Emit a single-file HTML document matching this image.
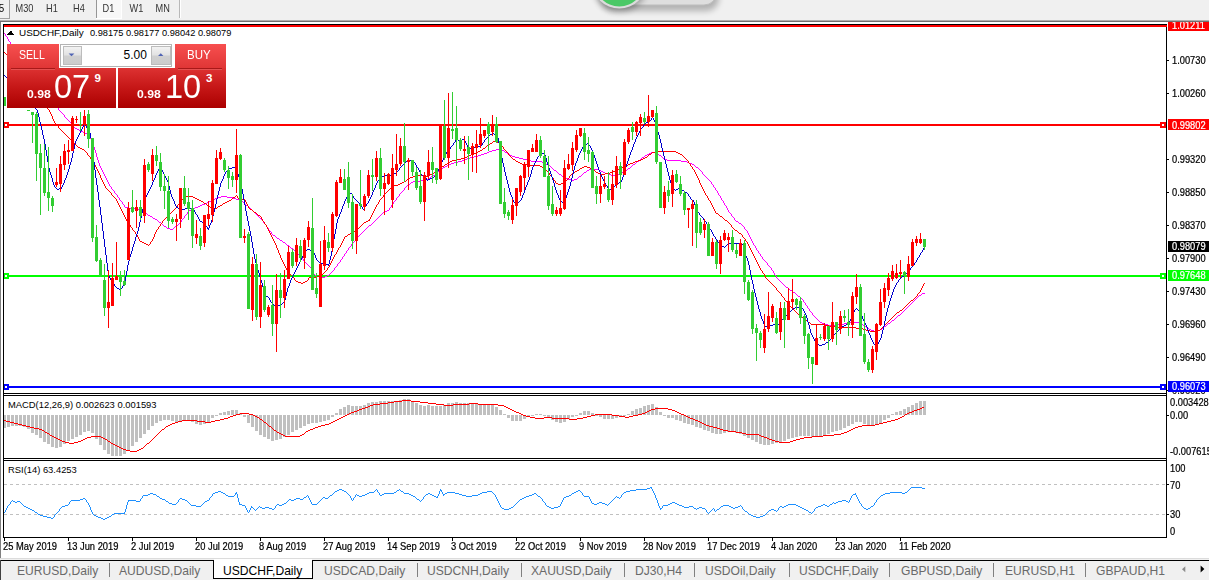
<!DOCTYPE html>
<html><head><meta charset="utf-8"><title>USDCHF,Daily</title>
<style>
html,body{margin:0;padding:0}
html{overflow:hidden}
#w{position:absolute;left:0;top:0;width:1209px;height:580px;overflow:hidden}
body{width:1209px;height:580px;overflow:hidden;background:#f0f0f0;position:relative;font-family:"Liberation Sans",sans-serif;}
svg{position:absolute;left:0;top:0}
.t{position:absolute;white-space:nowrap;line-height:1;color:#000}
.ax{font-size:9.3px;left:1172px;transform:scaleY(1.08);transform-origin:0 50%;margin-top:0.7px;-webkit-text-stroke:0.2px currentColor}
.ax2{font-size:9.3px;left:1170px;transform:scaleY(1.08);transform-origin:0 50%;margin-top:0.6px;-webkit-text-stroke:0.2px currentColor}
.dt{font-size:9.35px;top:543px;transform:scaleY(1.1);transform-origin:0 50%;-webkit-text-stroke:0.2px currentColor}
.tb{font-size:9.2px;top:4.6px;color:#333;transform:scaleY(1.12);transform-origin:0 50%;margin-left:-0.5px}
.tab{font-size:12.1px;top:564.6px;color:#6a6a6a}
.sep{position:absolute;top:563px;width:1px;height:14px;background:#808080}
.lbl{color:#fff}
</style></head><body><div id="w">

<svg width="1209" height="580" viewBox="0 0 1209 580" shape-rendering="crispEdges"><rect x="1" y="22" width="1208" height="536" fill="#fff"/>
<rect x="0" y="20" width="1209" height="1" fill="#b0b0b0"/>
<rect x="0" y="21" width="1209" height="1" fill="#707070"/>
<rect x="0" y="22" width="1" height="536" fill="#808080"/>
<rect x="0" y="558" width="1209" height="1" fill="#dcdcdc"/>
<defs><clipPath id="cp"><rect x="4" y="25" width="1162" height="368"/></clipPath></defs>
<g clip-path="url(#cp)" shape-rendering="crispEdges"><rect x="4" y="124" width="1162" height="2" fill="#ff0000"/><rect x="4" y="275" width="1162" height="2" fill="#00ff00"/><path d="M5.5 34v2M7.5 37v2M8.5 39v2M10.5 42v2M13.5 46v2M16.5 50v2M18.5 53v2M21.5 57v2M23.5 60v2M26.5 64v2M29.5 68v2M31.5 71v2M34.5 75v2M37.5 79v2M39.5 82v2M42.5 86v2M45.5 90v2M47.5 93v2M50.5 97v2M52.5 100v2M55.5 104v2M58.5 108v2M64.5 115v2M71.5 123v2M89.5 136v2M91.5 139v2M92.5 141v3M93.5 144v3M94.5 147v3M95.5 150v3M96.5 153v4M97.5 157v3M98.5 160v3M99.5 163v3M100.5 166v2M101.5 168v2M102.5 170v2M103.5 172v2M104.5 174v2M105.5 176v2M106.5 178v2M107.5 180v2M108.5 182v2M109.5 184v2M111.5 187v2M114.5 191v2M117.5 195v2M119.5 198v2M122.5 202v2M124.5 205v2M181.5 220v2M184.5 216v2M187.5 212v2M263.5 221v2M266.5 225v2M268.5 228v2M271.5 232v2M303.5 259v2M311.5 268v2M312.5 270v2M313.5 272v2M334.5 268v2M337.5 264v2M340.5 260v2M342.5 257v2M344.5 254v2M346.5 251v2M348.5 248v2M351.5 244v2M355.5 239v2M389.5 208v2M391.5 205v2M393.5 202v2M396.5 198v2M399.5 194v2M404.5 188v2M702.5 172v2M711.5 182v2M713.5 185v2M715.5 188v2M717.5 191v2M718.5 193v2M720.5 196v2M721.5 198v2M723.5 201v2M724.5 203v2M726.5 206v2M727.5 208v2M728.5 210v2M731.5 214v2M734.5 218v2M744.5 227v2M747.5 231v2M748.5 233v2M749.5 235v2M750.5 237v2M751.5 239v2M752.5 241v2M753.5 243v2M755.5 246v2M756.5 248v2M758.5 251v2M760.5 254v2M762.5 257v2M767.5 263v2M771.5 268v2M773.5 271v2M774.5 273v2M776.5 276v2M803.5 300v2M805.5 303v2M807.5 306v2M809.5 309v2M812.5 313v2M4 33.5h1M6 36.5h1M9 41.5h1M11 44.5h1M12 45.5h1M14 48.5h1M15 49.5h1M17 52.5h1M19 55.5h1M20 56.5h1M22 59.5h1M24 62.5h1M25 63.5h1M27 66.5h1M28 67.5h1M30 70.5h1M32 73.5h1M33 74.5h1M35 77.5h1M36 78.5h1M38 81.5h1M40 84.5h1M41 85.5h1M43 88.5h1M44 89.5h1M46 92.5h1M48 95.5h1M49 96.5h1M51 99.5h1M53 102.5h1M54 103.5h1M56 106.5h1M57 107.5h1M59 110.5h1M60 111.5h1M61 112.5h1M62 113.5h1M63 114.5h1M65 117.5h1M66 118.5h1M67 119.5h1M68 120.5h1M69 121.5h1M70 122.5h1M72 125.5h1M73 126.5h1M74 127.5h1M75 128.5h2M77 129.5h2M79 130.5h2M81 131.5h2M83 132.5h2M85 133.5h2M87 134.5h1M88 135.5h1M90 138.5h1M496 149.5h5M492 150.5h4M501 150.5h3M489 151.5h3M504 151.5h1M487 152.5h2M505 152.5h2M651 152.5h6M484 153.5h3M507 153.5h1M649 153.5h2M657 153.5h1M481 154.5h3M508 154.5h2M647 154.5h2M658 154.5h1M478 155.5h3M510 155.5h2M645 155.5h2M659 155.5h2M474 156.5h4M512 156.5h3M644 156.5h1M661 156.5h1M470 157.5h4M515 157.5h4M642 157.5h2M662 157.5h1M467 158.5h3M519 158.5h4M641 158.5h1M663 158.5h2M464 159.5h3M523 159.5h4M640 159.5h1M665 159.5h2M462 160.5h2M527 160.5h4M639 160.5h1M667 160.5h14M458 161.5h4M531 161.5h11M637 161.5h2M681 161.5h6M454 162.5h4M542 162.5h2M636 162.5h1M687 162.5h2M451 163.5h3M544 163.5h2M635 163.5h1M689 163.5h3M449 164.5h2M546 164.5h2M633 164.5h2M692 164.5h2M447 165.5h2M548 165.5h2M632 165.5h1M694 165.5h1M445 166.5h2M550 166.5h1M631 166.5h1M695 166.5h1M443 167.5h2M551 167.5h1M630 167.5h1M696 167.5h2M442 168.5h1M552 168.5h1M628 168.5h2M698 168.5h1M441 169.5h1M553 169.5h1M589 169.5h10M627 169.5h1M699 169.5h1M439 170.5h2M554 170.5h2M587 170.5h2M599 170.5h2M626 170.5h1M700 170.5h1M438 171.5h1M556 171.5h1M586 171.5h1M601 171.5h2M624 171.5h2M701 171.5h1M437 172.5h1M557 172.5h1M584 172.5h2M603 172.5h2M622 172.5h2M436 173.5h1M558 173.5h1M583 173.5h1M605 173.5h3M620 173.5h2M435 174.5h1M559 174.5h2M582 174.5h1M608 174.5h3M616 174.5h4M703 174.5h1M433 175.5h2M561 175.5h1M581 175.5h1M611 175.5h5M704 175.5h1M431 176.5h2M562 176.5h2M579 176.5h2M705 176.5h1M430 177.5h1M564 177.5h2M578 177.5h1M706 177.5h1M428 178.5h2M566 178.5h2M577 178.5h1M707 178.5h1M425 179.5h3M568 179.5h3M574 179.5h3M708 179.5h1M421 180.5h4M571 180.5h3M709 180.5h1M413 181.5h8M710 181.5h1M411 182.5h2M410 183.5h1M408 184.5h2M712 184.5h1M407 185.5h1M110 186.5h1M406 186.5h1M405 187.5h1M714 187.5h1M112 189.5h1M113 190.5h1M403 190.5h1M716 190.5h1M402 191.5h1M401 192.5h1M115 193.5h1M400 193.5h1M116 194.5h1M719 195.5h1M221 196.5h6M398 196.5h1M118 197.5h1M218 197.5h3M227 197.5h6M397 197.5h1M215 198.5h3M233 198.5h3M213 199.5h2M236 199.5h4M120 200.5h1M211 200.5h2M240 200.5h2M395 200.5h1M722 200.5h1M121 201.5h1M209 201.5h2M242 201.5h1M394 201.5h1M207 202.5h2M243 202.5h1M205 203.5h2M244 203.5h1M123 204.5h1M202 204.5h3M245 204.5h1M392 204.5h1M200 205.5h2M246 205.5h2M725 205.5h1M198 206.5h2M248 206.5h1M125 207.5h4M195 207.5h3M249 207.5h1M390 207.5h1M129 208.5h6M193 208.5h2M250 208.5h1M135 209.5h4M191 209.5h2M251 209.5h1M139 210.5h2M189 210.5h2M252 210.5h1M387 210.5h2M141 211.5h2M188 211.5h1M253 211.5h1M385 211.5h2M143 212.5h2M254 212.5h1M383 212.5h2M729 212.5h1M145 213.5h2M255 213.5h1M382 213.5h1M730 213.5h1M147 214.5h1M186 214.5h1M256 214.5h1M381 214.5h1M148 215.5h2M185 215.5h1M257 215.5h1M380 215.5h1M150 216.5h2M258 216.5h1M379 216.5h1M732 216.5h1M152 217.5h1M259 217.5h1M378 217.5h1M733 217.5h1M153 218.5h2M183 218.5h1M260 218.5h1M377 218.5h1M155 219.5h2M182 219.5h1M261 219.5h1M376 219.5h1M157 220.5h1M262 220.5h1M375 220.5h1M735 220.5h1M158 221.5h1M374 221.5h1M736 221.5h2M159 222.5h2M180 222.5h1M373 222.5h1M738 222.5h1M161 223.5h1M179 223.5h1M264 223.5h1M372 223.5h1M739 223.5h2M162 224.5h1M178 224.5h1M265 224.5h1M371 224.5h1M741 224.5h1M163 225.5h1M176 225.5h2M369 225.5h2M742 225.5h1M164 226.5h2M175 226.5h1M368 226.5h1M743 226.5h1M166 227.5h1M174 227.5h1M267 227.5h1M367 227.5h1M167 228.5h3M173 228.5h1M366 228.5h1M170 229.5h3M365 229.5h1M745 229.5h1M269 230.5h1M364 230.5h1M746 230.5h1M270 231.5h1M363 231.5h1M362 232.5h1M361 233.5h1M272 234.5h1M360 234.5h1M273 235.5h2M359 235.5h1M275 236.5h1M358 236.5h1M276 237.5h1M357 237.5h1M277 238.5h2M356 238.5h1M279 239.5h1M280 240.5h2M282 241.5h1M354 241.5h1M283 242.5h2M353 242.5h1M285 243.5h1M352 243.5h1M286 244.5h1M287 245.5h2M754 245.5h1M289 246.5h1M350 246.5h1M290 247.5h1M349 247.5h1M291 248.5h2M293 249.5h1M294 250.5h1M347 250.5h1M757 250.5h1M295 251.5h1M296 252.5h1M297 253.5h1M345 253.5h1M759 253.5h1M298 254.5h1M299 255.5h1M300 256.5h1M343 256.5h1M761 256.5h1M301 257.5h1M302 258.5h1M341 259.5h1M763 259.5h1M764 260.5h1M304 261.5h1M765 261.5h1M305 262.5h1M339 262.5h1M766 262.5h1M306 263.5h1M338 263.5h1M307 264.5h1M308 265.5h1M768 265.5h1M309 266.5h1M336 266.5h1M769 266.5h1M310 267.5h1M335 267.5h1M770 267.5h1M333 270.5h1M772 270.5h1M332 271.5h1M331 272.5h1M330 273.5h1M314 274.5h1M329 274.5h1M315 275.5h2M327 275.5h2M775 275.5h1M317 276.5h2M325 276.5h2M319 277.5h6M777 278.5h1M778 279.5h1M779 280.5h1M780 281.5h1M781 282.5h1M782 283.5h1M783 284.5h1M784 285.5h1M785 286.5h1M786 287.5h2M788 288.5h1M789 289.5h1M790 290.5h2M792 291.5h1M793 292.5h2M795 293.5h1M922 293.5h3M796 294.5h1M921 294.5h1M797 295.5h1M919 295.5h2M798 296.5h2M918 296.5h1M800 297.5h1M917 297.5h1M801 298.5h1M916 298.5h1M802 299.5h1M915 299.5h1M914 300.5h1M913 301.5h1M804 302.5h1M912 302.5h1M911 303.5h1M910 304.5h1M806 305.5h1M909 305.5h1M908 306.5h1M907 307.5h1M808 308.5h1M906 308.5h1M905 309.5h1M904 310.5h1M810 311.5h1M903 311.5h1M811 312.5h1M902 312.5h1M901 313.5h1M900 314.5h1M813 315.5h1M898 315.5h2M814 316.5h1M897 316.5h1M815 317.5h1M896 317.5h1M816 318.5h1M895 318.5h1M817 319.5h1M894 319.5h1M818 320.5h1M892 320.5h2M819 321.5h1M891 321.5h1M820 322.5h2M850 322.5h10M890 322.5h1M822 323.5h2M844 323.5h6M860 323.5h1M888 323.5h2M824 324.5h4M838 324.5h6M861 324.5h2M887 324.5h1M828 325.5h10M863 325.5h1M886 325.5h1M864 326.5h2M884 326.5h2M866 327.5h1M883 327.5h1M867 328.5h2M882 328.5h1M869 329.5h2M880 329.5h2M871 330.5h3M877 330.5h3M874 331.5h3" fill="none" stroke="#ff00ff" stroke-width="1" shape-rendering="crispEdges"/><path d="M7.5 55v2M10.5 59v2M13.5 63v2M17.5 68v2M20.5 72v2M24.5 77v2M27.5 81v2M30.5 85v2M34.5 90v2M37.5 94v2M41.5 99v2M44.5 103v2M47.5 107v2M49.5 110v2M50.5 112v2M51.5 114v2M52.5 116v3M53.5 119v2M54.5 121v2M58.5 126v2M87.5 153v2M90.5 157v2M92.5 160v2M93.5 162v2M95.5 165v2M96.5 167v2M97.5 169v2M98.5 171v2M99.5 173v2M100.5 175v3M101.5 178v2M102.5 180v2M103.5 182v2M104.5 184v2M105.5 186v2M111.5 193v2M116.5 199v2M117.5 201v2M118.5 203v2M119.5 205v2M120.5 207v2M121.5 209v2M122.5 211v2M123.5 213v2M124.5 215v2M125.5 217v2M126.5 219v2M127.5 221v2M130.5 225v2M132.5 228v2M135.5 232v2M137.5 235v2M138.5 237v2M139.5 239v2M150.5 242v2M152.5 239v2M153.5 237v2M154.5 234v3M155.5 232v2M156.5 230v2M158.5 227v2M160.5 224v2M162.5 221v2M177.5 205v2M180.5 201v2M183.5 197v2M237.5 196v2M245.5 200v2M246.5 202v2M247.5 204v2M248.5 206v2M261.5 217v2M262.5 219v2M264.5 222v2M266.5 225v2M267.5 227v2M268.5 229v2M269.5 231v2M270.5 233v2M271.5 235v2M272.5 237v2M273.5 239v2M274.5 241v2M275.5 243v2M276.5 245v3M277.5 248v2M278.5 250v3M279.5 253v2M280.5 255v3M281.5 258v2M282.5 260v2M283.5 262v2M284.5 264v2M285.5 266v2M286.5 268v2M289.5 272v2M294.5 278v2M308.5 278v2M327.5 268v2M329.5 265v2M330.5 263v2M331.5 261v2M332.5 259v2M333.5 257v2M334.5 255v2M336.5 252v2M337.5 250v2M338.5 248v2M340.5 245v2M341.5 243v2M342.5 241v2M343.5 239v2M344.5 237v2M369.5 219v2M370.5 217v2M371.5 215v2M372.5 213v2M373.5 211v2M374.5 209v2M375.5 207v2M376.5 205v2M378.5 202v2M379.5 200v2M383.5 195v2M503.5 147v2M508.5 153v2M549.5 173v2M553.5 178v2M555.5 181v2M569.5 176v2M688.5 161v2M690.5 164v2M692.5 167v2M694.5 170v2M695.5 172v2M696.5 174v2M697.5 176v2M698.5 178v2M699.5 180v3M700.5 183v2M701.5 185v2M702.5 187v2M703.5 189v2M704.5 191v2M705.5 193v2M707.5 196v2M708.5 198v2M710.5 201v2M711.5 203v2M712.5 205v2M713.5 207v2M714.5 209v2M715.5 211v2M731.5 225v2M742.5 235v2M745.5 239v2M747.5 242v2M748.5 244v2M749.5 246v2M750.5 248v2M751.5 250v2M752.5 252v2M753.5 254v2M754.5 256v2M755.5 258v2M756.5 260v2M757.5 262v2M758.5 264v2M759.5 266v2M760.5 268v2M762.5 271v2M764.5 274v2M765.5 276v2M776.5 288v2M781.5 294v2M784.5 298v2M788.5 303v2M917.5 294v2M920.5 290v2M921.5 288v2M922.5 286v2M923.5 284v2M4 52.5h1M5 53.5h1M6 54.5h1M8 57.5h1M9 58.5h1M11 61.5h1M12 62.5h1M14 65.5h1M15 66.5h1M16 67.5h1M18 70.5h1M19 71.5h1M21 74.5h1M22 75.5h1M23 76.5h1M25 79.5h1M26 80.5h1M28 83.5h1M29 84.5h1M31 87.5h1M32 88.5h1M33 89.5h1M35 92.5h1M36 93.5h1M38 96.5h1M39 97.5h1M40 98.5h1M42 101.5h1M43 102.5h1M45 105.5h1M46 106.5h1M48 109.5h1M55 123.5h1M56 124.5h1M57 125.5h1M59 128.5h1M60 129.5h1M61 130.5h1M62 131.5h1M63 132.5h1M64 133.5h1M65 134.5h1M66 135.5h1M67 136.5h1M68 137.5h1M69 138.5h1M70 139.5h1M71 140.5h1M495 140.5h1M72 141.5h1M493 141.5h2M496 141.5h1M73 142.5h1M492 142.5h1M497 142.5h2M74 143.5h1M490 143.5h2M499 143.5h1M75 144.5h1M489 144.5h1M500 144.5h1M76 145.5h1M487 145.5h2M501 145.5h1M77 146.5h1M486 146.5h1M502 146.5h1M78 147.5h2M485 147.5h1M80 148.5h2M483 148.5h2M82 149.5h2M482 149.5h1M504 149.5h1M84 150.5h1M480 150.5h2M505 150.5h1M85 151.5h1M478 151.5h2M506 151.5h1M655 151.5h21M86 152.5h1M476 152.5h2M507 152.5h1M652 152.5h3M676 152.5h2M474 153.5h2M651 153.5h1M678 153.5h2M471 154.5h3M649 154.5h2M680 154.5h2M88 155.5h1M469 155.5h2M509 155.5h1M648 155.5h1M682 155.5h1M89 156.5h1M467 156.5h2M510 156.5h1M647 156.5h1M683 156.5h1M465 157.5h2M511 157.5h1M645 157.5h2M684 157.5h1M461 158.5h4M512 158.5h1M643 158.5h2M685 158.5h1M91 159.5h1M456 159.5h5M513 159.5h2M641 159.5h2M686 159.5h1M452 160.5h4M515 160.5h1M638 160.5h3M687 160.5h1M450 161.5h2M516 161.5h2M635 161.5h3M448 162.5h2M518 162.5h2M633 162.5h2M447 163.5h1M520 163.5h2M630 163.5h3M689 163.5h1M94 164.5h1M445 164.5h2M522 164.5h5M628 164.5h2M444 165.5h1M527 165.5h13M626 165.5h2M442 166.5h2M540 166.5h2M584 166.5h3M624 166.5h2M691 166.5h1M441 167.5h1M542 167.5h1M582 167.5h2M587 167.5h3M622 167.5h2M439 168.5h2M543 168.5h2M580 168.5h2M590 168.5h2M620 168.5h2M438 169.5h1M545 169.5h1M579 169.5h1M592 169.5h1M618 169.5h2M693 169.5h1M437 170.5h1M546 170.5h1M577 170.5h2M593 170.5h2M616 170.5h2M435 171.5h2M547 171.5h1M575 171.5h2M595 171.5h1M613 171.5h3M434 172.5h1M548 172.5h1M573 172.5h2M596 172.5h2M610 172.5h3M432 173.5h2M572 173.5h1M598 173.5h3M605 173.5h5M430 174.5h2M571 174.5h1M601 174.5h4M417 175.5h6M428 175.5h2M550 175.5h1M570 175.5h1M413 176.5h4M423 176.5h5M551 176.5h1M410 177.5h3M552 177.5h1M408 178.5h2M568 178.5h1M407 179.5h1M567 179.5h1M406 180.5h1M554 180.5h1M566 180.5h1M404 181.5h2M564 181.5h2M402 182.5h2M563 182.5h1M400 183.5h2M556 183.5h2M561 183.5h2M398 184.5h2M558 184.5h3M394 185.5h4M392 186.5h2M391 187.5h1M106 188.5h1M390 188.5h1M107 189.5h1M389 189.5h1M108 190.5h1M388 190.5h1M109 191.5h1M387 191.5h1M110 192.5h1M386 192.5h1M385 193.5h1M384 194.5h1M112 195.5h1M236 195.5h1M706 195.5h1M113 196.5h1M184 196.5h9M235 196.5h1M114 197.5h1M193 197.5h2M233 197.5h2M382 197.5h1M115 198.5h1M195 198.5h2M232 198.5h1M238 198.5h3M381 198.5h1M182 199.5h1M197 199.5h2M231 199.5h1M241 199.5h4M380 199.5h1M181 200.5h1M199 200.5h2M229 200.5h2M709 200.5h1M201 201.5h2M227 201.5h2M203 202.5h1M225 202.5h2M179 203.5h1M204 203.5h2M223 203.5h2M178 204.5h1M206 204.5h1M222 204.5h1M377 204.5h1M207 205.5h2M220 205.5h2M209 206.5h1M218 206.5h2M176 207.5h1M210 207.5h2M217 207.5h1M175 208.5h1M212 208.5h2M215 208.5h2M249 208.5h1M174 209.5h1M214 209.5h1M250 209.5h2M173 210.5h1M252 210.5h1M172 211.5h1M253 211.5h1M171 212.5h1M254 212.5h2M170 213.5h1M256 213.5h1M716 213.5h2M169 214.5h1M257 214.5h1M718 214.5h1M168 215.5h1M258 215.5h2M719 215.5h1M167 216.5h1M260 216.5h1M720 216.5h2M166 217.5h1M722 217.5h1M165 218.5h1M723 218.5h1M164 219.5h1M724 219.5h1M163 220.5h1M368 220.5h1M725 220.5h2M263 221.5h1M366 221.5h2M727 221.5h1M364 222.5h2M728 222.5h1M128 223.5h1M161 223.5h1M363 223.5h1M729 223.5h1M129 224.5h1M265 224.5h1M362 224.5h1M730 224.5h1M361 225.5h1M159 226.5h1M360 226.5h1M131 227.5h1M359 227.5h1M732 227.5h1M358 228.5h1M733 228.5h1M157 229.5h1M357 229.5h1M734 229.5h1M133 230.5h1M355 230.5h2M735 230.5h2M134 231.5h1M353 231.5h2M737 231.5h1M351 232.5h2M738 232.5h1M350 233.5h1M739 233.5h2M136 234.5h1M348 234.5h2M741 234.5h1M347 235.5h1M345 236.5h2M743 237.5h1M744 238.5h1M140 241.5h2M151 241.5h1M746 241.5h1M142 242.5h2M144 243.5h2M146 244.5h2M149 244.5h1M148 245.5h1M339 247.5h1M335 254.5h1M328 267.5h1M287 270.5h1M326 270.5h1M761 270.5h1M288 271.5h1M325 271.5h1M324 272.5h1M323 273.5h1M763 273.5h1M290 274.5h1M322 274.5h1M291 275.5h1M320 275.5h2M292 276.5h1M316 276.5h4M293 277.5h1M309 277.5h7M766 278.5h1M767 279.5h1M295 280.5h1M307 280.5h1M768 280.5h1M296 281.5h2M305 281.5h2M769 281.5h1M298 282.5h3M303 282.5h2M770 282.5h1M301 283.5h2M771 283.5h1M924 283.5h1M772 284.5h1M773 285.5h1M774 286.5h1M775 287.5h1M777 290.5h1M778 291.5h1M779 292.5h1M919 292.5h1M780 293.5h1M918 293.5h1M782 296.5h1M916 296.5h1M783 297.5h1M915 297.5h1M914 298.5h1M913 299.5h1M785 300.5h1M911 300.5h2M786 301.5h1M910 301.5h1M787 302.5h1M909 302.5h1M908 303.5h1M907 304.5h1M789 305.5h1M906 305.5h1M790 306.5h1M905 306.5h1M791 307.5h1M904 307.5h1M792 308.5h1M903 308.5h1M793 309.5h1M902 309.5h1M794 310.5h1M900 310.5h2M795 311.5h1M899 311.5h1M796 312.5h1M897 312.5h2M797 313.5h1M896 313.5h1M798 314.5h2M895 314.5h1M800 315.5h1M894 315.5h1M801 316.5h1M893 316.5h1M802 317.5h1M892 317.5h1M803 318.5h2M891 318.5h1M805 319.5h1M890 319.5h1M806 320.5h1M889 320.5h1M807 321.5h1M888 321.5h1M808 322.5h2M887 322.5h1M810 323.5h1M886 323.5h1M811 324.5h13M885 324.5h1M824 325.5h5M884 325.5h1M829 326.5h6M883 326.5h1M835 327.5h21M882 327.5h1M856 328.5h7M881 328.5h1M863 329.5h3M880 329.5h1M866 330.5h4M876 330.5h4M870 331.5h6" fill="none" stroke="#ff0000" stroke-width="1" shape-rendering="crispEdges"/><path d="M13.5 84v2M29.5 101v2M37.5 110v3M38.5 113v4M39.5 117v5M40.5 122v4M41.5 126v4M42.5 130v5M43.5 135v4M44.5 139v5M45.5 144v6M46.5 150v6M47.5 156v6M48.5 162v6M49.5 168v4M50.5 172v3M51.5 175v3M52.5 178v4M53.5 182v3M54.5 185v2M61.5 187v2M62.5 185v2M63.5 183v2M64.5 180v3M65.5 178v2M66.5 175v3M67.5 172v3M68.5 169v3M69.5 165v4M70.5 162v3M71.5 158v4M72.5 153v5M73.5 149v4M74.5 144v5M75.5 141v3M76.5 139v2M77.5 137v2M78.5 135v2M79.5 133v2M80.5 131v2M81.5 129v2M82.5 127v2M83.5 125v2M84.5 123v2M85.5 124v2M86.5 126v2M87.5 128v2M88.5 130v2M90.5 133v5M91.5 138v8M92.5 146v8M93.5 154v8M94.5 162v8M95.5 170v8M96.5 178v7M97.5 185v7M98.5 192v8M99.5 200v7M100.5 207v8M101.5 215v8M102.5 223v8M103.5 231v8M104.5 239v8M105.5 247v8M106.5 255v8M107.5 263v8M108.5 271v5M109.5 276v2M110.5 278v2M111.5 280v2M114.5 284v2M122.5 286v2M124.5 282v3M125.5 276v6M126.5 271v5M127.5 265v6M128.5 261v4M129.5 257v4M130.5 254v3M131.5 251v3M132.5 247v4M133.5 244v3M134.5 241v3M135.5 237v4M136.5 234v3M137.5 231v3M138.5 227v4M139.5 222v5M140.5 218v4M141.5 213v5M142.5 209v4M143.5 204v5M144.5 200v4M145.5 197v3M146.5 195v2M147.5 193v2M148.5 191v2M149.5 189v2M150.5 187v2M151.5 185v2M152.5 182v3M153.5 180v2M154.5 178v2M155.5 175v3M156.5 173v2M157.5 171v2M158.5 169v2M162.5 170v2M163.5 172v2M164.5 174v2M165.5 176v2M166.5 178v2M167.5 180v2M168.5 182v4M169.5 186v4M170.5 190v4M171.5 194v3M172.5 197v2M173.5 199v2M174.5 201v3M175.5 204v2M176.5 206v2M194.5 210v2M195.5 212v2M197.5 215v2M198.5 217v2M199.5 219v2M204.5 223v2M207.5 227v2M208.5 228v2M209.5 225v3M210.5 223v2M211.5 220v3M212.5 216v4M213.5 212v4M214.5 208v4M215.5 204v4M216.5 199v5M217.5 195v4M218.5 191v4M219.5 187v4M220.5 183v4M221.5 181v2M222.5 179v2M223.5 176v3M224.5 174v2M225.5 172v2M235.5 168v2M236.5 170v2M237.5 172v2M238.5 174v3M239.5 177v4M240.5 181v4M241.5 185v4M242.5 189v5M243.5 194v6M244.5 200v5M245.5 205v6M246.5 211v5M247.5 216v5M248.5 221v5M249.5 226v5M250.5 231v5M251.5 236v6M252.5 242v6M253.5 248v6M254.5 254v5M255.5 259v4M256.5 263v4M257.5 267v3M258.5 270v3M259.5 273v4M260.5 277v3M261.5 280v3M262.5 283v4M263.5 287v3M264.5 290v4M265.5 294v2M269.5 298v2M270.5 300v2M284.5 300v2M285.5 296v4M286.5 292v4M287.5 288v4M288.5 286v2M289.5 283v3M290.5 280v3M291.5 278v2M292.5 276v2M293.5 274v2M294.5 272v2M295.5 270v2M296.5 268v2M297.5 266v2M298.5 264v2M299.5 262v2M300.5 260v2M301.5 258v2M302.5 256v2M303.5 254v2M304.5 252v2M305.5 250v2M313.5 251v2M314.5 253v2M315.5 255v3M316.5 258v2M328.5 264v2M329.5 260v4M330.5 256v4M331.5 251v5M332.5 245v6M333.5 239v6M334.5 234v5M335.5 229v5M336.5 223v6M337.5 219v4M338.5 217v2M339.5 214v3M340.5 212v2M341.5 209v3M342.5 206v3M343.5 204v2M344.5 201v3M345.5 199v2M346.5 197v2M347.5 195v2M348.5 193v2M352.5 194v2M353.5 196v2M359.5 203v2M362.5 207v2M364.5 207v2M366.5 204v2M368.5 201v2M369.5 199v2M370.5 197v2M371.5 195v2M372.5 192v3M373.5 190v2M374.5 188v2M375.5 185v3M376.5 183v2M377.5 181v2M399.5 168v2M415.5 163v2M416.5 165v2M418.5 168v2M419.5 170v2M420.5 172v2M426.5 178v2M435.5 175v2M436.5 173v2M437.5 171v2M438.5 169v2M439.5 166v3M440.5 164v2M441.5 162v2M442.5 160v2M443.5 158v2M444.5 156v2M445.5 154v2M446.5 152v2M450.5 147v2M453.5 143v2M455.5 140v2M464.5 139v2M465.5 141v2M466.5 143v2M467.5 145v2M482.5 143v2M484.5 140v2M497.5 135v3M498.5 138v5M499.5 143v5M500.5 148v5M501.5 153v5M502.5 158v5M503.5 163v4M504.5 167v5M505.5 172v4M506.5 176v4M507.5 180v4M508.5 184v4M509.5 188v4M510.5 192v3M511.5 195v2M512.5 197v3M513.5 200v2M521.5 198v2M522.5 195v3M523.5 193v2M524.5 190v3M525.5 187v3M526.5 185v2M527.5 182v3M528.5 180v2M529.5 177v3M530.5 174v3M531.5 170v4M532.5 167v3M533.5 165v2M534.5 163v2M535.5 161v2M536.5 159v2M537.5 157v2M544.5 153v2M545.5 155v3M546.5 158v4M547.5 162v3M548.5 165v3M549.5 168v3M550.5 171v3M551.5 174v3M552.5 177v3M553.5 180v3M554.5 183v4M555.5 187v3M556.5 190v3M557.5 193v2M558.5 195v3M559.5 198v2M560.5 200v2M564.5 200v2M565.5 198v2M566.5 195v3M567.5 192v3M568.5 189v3M569.5 186v3M570.5 182v4M571.5 178v4M572.5 174v4M573.5 170v4M574.5 166v4M575.5 163v3M576.5 161v2M577.5 158v3M578.5 155v3M579.5 153v2M580.5 151v2M581.5 149v2M582.5 147v2M590.5 146v2M591.5 148v2M592.5 150v2M593.5 152v3M594.5 155v3M595.5 158v3M596.5 161v3M597.5 164v3M598.5 167v3M599.5 170v2M600.5 172v3M601.5 175v2M602.5 177v2M603.5 179v2M604.5 181v2M605.5 183v2M607.5 186v2M621.5 180v2M622.5 177v3M623.5 173v4M624.5 170v3M625.5 167v3M626.5 164v3M627.5 161v3M628.5 158v3M629.5 155v3M630.5 152v3M631.5 150v2M632.5 147v3M633.5 144v3M634.5 142v2M635.5 139v3M636.5 137v2M637.5 135v2M638.5 133v2M639.5 131v2M640.5 129v2M643.5 125v2M651.5 118v2M653.5 118v2M654.5 120v2M655.5 122v3M656.5 125v3M657.5 128v4M658.5 132v3M659.5 135v4M660.5 139v4M661.5 143v5M662.5 148v4M663.5 152v4M664.5 156v4M665.5 160v4M666.5 164v4M667.5 168v4M668.5 172v4M669.5 176v4M670.5 180v3M671.5 183v4M672.5 187v2M688.5 194v2M690.5 197v2M693.5 200v2M694.5 202v3M695.5 205v2M696.5 207v3M697.5 210v2M699.5 213v2M703.5 218v2M706.5 222v2M708.5 225v2M709.5 227v2M711.5 230v2M712.5 232v2M713.5 234v2M715.5 237v2M717.5 240v2M743.5 244v3M744.5 247v5M745.5 252v4M746.5 256v2M747.5 258v3M748.5 261v4M749.5 265v5M750.5 270v5M751.5 275v5M752.5 280v4M753.5 284v5M754.5 289v4M755.5 293v4M756.5 297v4M757.5 301v4M758.5 305v4M759.5 309v3M760.5 312v4M761.5 316v3M762.5 319v2M763.5 321v3M764.5 324v2M780.5 321v2M803.5 309v2M804.5 311v2M805.5 313v2M806.5 315v3M807.5 318v4M808.5 322v3M809.5 325v4M810.5 329v4M811.5 333v2M812.5 335v2M813.5 337v2M814.5 339v2M816.5 342v2M831.5 337v2M849.5 321v2M850.5 319v2M851.5 317v2M852.5 315v2M853.5 312v3M854.5 310v2M860.5 311v2M861.5 313v3M862.5 316v3M863.5 319v2M864.5 321v2M865.5 323v2M866.5 325v2M867.5 327v3M868.5 330v3M869.5 333v2M870.5 335v3M871.5 338v2M872.5 340v2M873.5 342v2M878.5 342v2M879.5 340v2M880.5 338v2M881.5 334v4M882.5 330v4M883.5 326v4M884.5 321v5M885.5 316v5M886.5 312v4M887.5 308v4M888.5 305v3M889.5 301v4M890.5 298v3M891.5 295v3M892.5 292v3M893.5 289v3M894.5 287v2M895.5 285v2M896.5 283v2M898.5 280v2M910.5 268v2M914.5 263v2M916.5 260v2M917.5 258v2M919.5 255v2M920.5 253v2M922.5 250v2M923.5 248v2M4 75.5h1M5 76.5h1M6 77.5h1M7 78.5h1M8 79.5h1M9 80.5h1M10 81.5h1M11 82.5h1M12 83.5h1M14 86.5h1M15 87.5h1M16 88.5h1M17 89.5h1M18 90.5h1M19 91.5h1M20 92.5h1M21 93.5h1M22 94.5h1M23 95.5h1M24 96.5h1M25 97.5h1M26 98.5h1M27 99.5h1M28 100.5h1M30 103.5h1M31 104.5h1M32 105.5h1M33 106.5h1M34 107.5h1M35 108.5h1M36 109.5h1M652 117.5h1M650 120.5h1M648 121.5h2M646 122.5h2M645 123.5h1M644 124.5h1M642 127.5h1M641 128.5h1M89 132.5h1M492 133.5h2M490 134.5h2M494 134.5h2M489 135.5h1M496 135.5h1M488 136.5h1M487 137.5h1M486 138.5h1M456 139.5h2M462 139.5h2M485 139.5h1M458 140.5h4M454 142.5h1M483 142.5h1M587 143.5h1M585 144.5h2M588 144.5h1M452 145.5h1M480 145.5h2M584 145.5h1M589 145.5h1M451 146.5h1M477 146.5h3M583 146.5h1M468 147.5h2M473 147.5h4M470 148.5h3M449 149.5h1M448 150.5h1M447 151.5h1M541 153.5h3M540 154.5h1M539 155.5h1M538 156.5h1M408 160.5h3M406 161.5h2M411 161.5h2M405 162.5h1M413 162.5h2M404 163.5h1M403 164.5h1M402 165.5h1M401 166.5h1M232 167.5h3M400 167.5h1M417 167.5h1M229 168.5h3M159 169.5h3M228 169.5h1M227 170.5h1M398 170.5h1M226 171.5h1M397 171.5h1M396 172.5h1M394 173.5h2M393 174.5h1M421 174.5h1M385 175.5h8M422 175.5h2M382 176.5h3M424 176.5h1M434 176.5h1M381 177.5h1M425 177.5h1M432 177.5h2M380 178.5h1M430 178.5h2M379 179.5h1M428 179.5h2M378 180.5h1M427 180.5h1M619 182.5h2M618 183.5h1M616 184.5h2M606 185.5h1M615 185.5h1M614 186.5h1M55 187.5h1M613 187.5h1M56 188.5h1M59 188.5h2M608 188.5h1M611 188.5h2M678 188.5h2M57 189.5h2M609 189.5h2M673 189.5h2M676 189.5h2M680 189.5h2M675 190.5h1M682 190.5h2M684 191.5h1M685 192.5h2M349 193.5h3M687 193.5h1M689 196.5h1M354 198.5h1M355 199.5h1M691 199.5h1M356 200.5h1M520 200.5h1M692 200.5h1M357 201.5h1M519 201.5h1M561 201.5h1M358 202.5h1M514 202.5h1M518 202.5h1M562 202.5h2M367 203.5h1M515 203.5h1M517 203.5h1M516 204.5h1M360 205.5h1M361 206.5h1M365 206.5h1M177 207.5h1M187 207.5h3M178 208.5h4M185 208.5h2M190 208.5h2M182 209.5h3M192 209.5h2M363 209.5h1M698 212.5h1M196 214.5h1M700 215.5h1M701 216.5h1M702 217.5h1M704 220.5h1M200 221.5h2M705 221.5h1M202 222.5h2M707 224.5h1M205 225.5h1M206 226.5h1M710 229.5h1M714 236.5h1M716 239.5h1M718 242.5h1M719 243.5h1M728 243.5h13M720 244.5h1M727 244.5h1M741 244.5h2M721 245.5h1M726 245.5h1M722 246.5h2M725 246.5h1M724 247.5h1M924 247.5h1M307 249.5h3M306 250.5h1M310 250.5h2M312 251.5h1M921 252.5h1M918 257.5h1M317 260.5h1M318 261.5h1M319 262.5h1M915 262.5h1M320 263.5h6M326 264.5h2M913 265.5h1M912 266.5h1M911 267.5h1M909 270.5h1M908 271.5h1M907 272.5h1M906 273.5h1M905 274.5h1M904 275.5h1M902 276.5h2M901 277.5h1M900 278.5h1M899 279.5h1M112 282.5h1M897 282.5h1M113 283.5h1M123 285.5h1M115 286.5h1M116 287.5h1M117 288.5h2M121 288.5h1M119 289.5h2M266 296.5h2M268 297.5h1M271 302.5h1M283 302.5h1M272 303.5h1M282 303.5h1M273 304.5h1M281 304.5h1M274 305.5h7M795 307.5h5M793 308.5h2M800 308.5h3M856 308.5h1M792 309.5h1M855 309.5h1M857 309.5h1M791 310.5h1M858 310.5h2M790 311.5h1M789 312.5h1M788 313.5h1M787 314.5h1M786 315.5h1M785 316.5h1M784 317.5h1M783 318.5h1M782 319.5h1M781 320.5h1M779 323.5h1M848 323.5h1M773 324.5h6M846 324.5h2M770 325.5h3M844 325.5h2M765 326.5h2M768 326.5h2M842 326.5h2M767 327.5h1M841 327.5h1M840 328.5h1M839 329.5h1M838 330.5h1M837 331.5h1M836 332.5h1M835 333.5h1M834 334.5h1M833 335.5h1M832 336.5h1M830 339.5h1M829 340.5h1M815 341.5h1M828 341.5h1M826 342.5h2M825 343.5h1M817 344.5h2M822 344.5h3M874 344.5h4M819 345.5h3" fill="none" stroke="#0000cd" stroke-width="1" shape-rendering="crispEdges"/><rect x="4" y="97" width="1" height="9" fill="#32cd32"/><rect x="3" y="97" width="3" height="9" fill="#32cd32"/><rect x="28" y="110" width="1" height="1" fill="#32cd32"/><rect x="27" y="110" width="3" height="1" fill="#32cd32"/><rect x="32" y="112" width="1" height="31" fill="#32cd32"/><rect x="31" y="112" width="3" height="3" fill="#32cd32"/><rect x="36" y="112" width="1" height="69" fill="#32cd32"/><rect x="35" y="114" width="3" height="40" fill="#32cd32"/><rect x="40" y="144" width="1" height="71" fill="#32cd32"/><rect x="39" y="153" width="3" height="15" fill="#32cd32"/><rect x="44" y="144" width="1" height="52" fill="#32cd32"/><rect x="43" y="168" width="3" height="25" fill="#32cd32"/><rect x="48" y="147" width="1" height="64" fill="#32cd32"/><rect x="47" y="192" width="3" height="6" fill="#32cd32"/><rect x="52" y="196" width="1" height="16" fill="#32cd32"/><rect x="51" y="198" width="3" height="8" fill="#32cd32"/><rect x="56" y="168" width="1" height="19" fill="#ff0000"/><rect x="55" y="182" width="3" height="3" fill="#ff0000"/><rect x="60" y="156" width="1" height="36" fill="#ff0000"/><rect x="59" y="164" width="3" height="20" fill="#ff0000"/><rect x="64" y="144" width="1" height="26" fill="#ff0000"/><rect x="63" y="151" width="3" height="14" fill="#ff0000"/><rect x="68" y="140" width="1" height="24" fill="#ff0000"/><rect x="67" y="150" width="3" height="2" fill="#ff0000"/><rect x="72" y="116" width="1" height="35" fill="#ff0000"/><rect x="71" y="118" width="3" height="33" fill="#ff0000"/><rect x="76" y="116" width="1" height="7" fill="#ff0000"/><rect x="75" y="119" width="3" height="1" fill="#ff0000"/><rect x="80" y="112" width="1" height="19" fill="#32cd32"/><rect x="79" y="124" width="3" height="1" fill="#32cd32"/><rect x="84" y="110" width="1" height="26" fill="#ff0000"/><rect x="83" y="116" width="3" height="9" fill="#ff0000"/><rect x="88" y="110" width="1" height="38" fill="#32cd32"/><rect x="87" y="114" width="3" height="25" fill="#32cd32"/><rect x="92" y="138" width="1" height="104" fill="#32cd32"/><rect x="91" y="138" width="3" height="100" fill="#32cd32"/><rect x="96" y="225" width="1" height="37" fill="#32cd32"/><rect x="95" y="237" width="3" height="24" fill="#32cd32"/><rect x="100" y="258" width="1" height="19" fill="#32cd32"/><rect x="99" y="260" width="3" height="16" fill="#32cd32"/><rect x="104" y="264" width="1" height="52" fill="#32cd32"/><rect x="103" y="280" width="3" height="28" fill="#32cd32"/><rect x="108" y="270" width="1" height="58" fill="#ff0000"/><rect x="107" y="302" width="3" height="6" fill="#ff0000"/><rect x="112" y="263" width="1" height="43" fill="#ff0000"/><rect x="111" y="278" width="3" height="28" fill="#ff0000"/><rect x="116" y="242" width="1" height="38" fill="#ff0000"/><rect x="115" y="276" width="3" height="4" fill="#ff0000"/><rect x="120" y="271" width="1" height="25" fill="#32cd32"/><rect x="119" y="276" width="3" height="6" fill="#32cd32"/><rect x="124" y="270" width="1" height="16" fill="#32cd32"/><rect x="123" y="281" width="3" height="4" fill="#32cd32"/><rect x="128" y="202" width="1" height="58" fill="#ff0000"/><rect x="127" y="208" width="3" height="52" fill="#ff0000"/><rect x="132" y="190" width="1" height="23" fill="#32cd32"/><rect x="131" y="207" width="3" height="5" fill="#32cd32"/><rect x="136" y="200" width="1" height="28" fill="#ff0000"/><rect x="135" y="207" width="3" height="4" fill="#ff0000"/><rect x="140" y="200" width="1" height="20" fill="#32cd32"/><rect x="139" y="207" width="3" height="9" fill="#32cd32"/><rect x="144" y="159" width="1" height="64" fill="#ff0000"/><rect x="143" y="165" width="3" height="51" fill="#ff0000"/><rect x="148" y="162" width="1" height="10" fill="#32cd32"/><rect x="147" y="164" width="3" height="6" fill="#32cd32"/><rect x="152" y="149" width="1" height="32" fill="#ff0000"/><rect x="151" y="155" width="3" height="19" fill="#ff0000"/><rect x="156" y="146" width="1" height="20" fill="#32cd32"/><rect x="155" y="155" width="3" height="6" fill="#32cd32"/><rect x="160" y="153" width="1" height="38" fill="#32cd32"/><rect x="159" y="162" width="3" height="25" fill="#32cd32"/><rect x="164" y="174" width="1" height="35" fill="#32cd32"/><rect x="163" y="186" width="3" height="5" fill="#32cd32"/><rect x="168" y="176" width="1" height="52" fill="#32cd32"/><rect x="167" y="191" width="3" height="30" fill="#32cd32"/><rect x="172" y="217" width="1" height="7" fill="#32cd32"/><rect x="171" y="219" width="3" height="3" fill="#32cd32"/><rect x="176" y="214" width="1" height="27" fill="#ff0000"/><rect x="175" y="219" width="3" height="3" fill="#ff0000"/><rect x="180" y="188" width="1" height="40" fill="#ff0000"/><rect x="179" y="188" width="3" height="31" fill="#ff0000"/><rect x="184" y="176" width="1" height="30" fill="#32cd32"/><rect x="183" y="188" width="3" height="16" fill="#32cd32"/><rect x="188" y="188" width="1" height="32" fill="#32cd32"/><rect x="187" y="202" width="3" height="7" fill="#32cd32"/><rect x="192" y="200" width="1" height="48" fill="#32cd32"/><rect x="191" y="208" width="3" height="28" fill="#32cd32"/><rect x="196" y="220" width="1" height="24" fill="#ff0000"/><rect x="195" y="234" width="3" height="4" fill="#ff0000"/><rect x="200" y="228" width="1" height="22" fill="#32cd32"/><rect x="199" y="236" width="3" height="10" fill="#32cd32"/><rect x="204" y="215" width="1" height="32" fill="#ff0000"/><rect x="203" y="215" width="3" height="28" fill="#ff0000"/><rect x="208" y="201" width="1" height="25" fill="#ff0000"/><rect x="207" y="214" width="3" height="5" fill="#ff0000"/><rect x="212" y="180" width="1" height="42" fill="#ff0000"/><rect x="211" y="183" width="3" height="32" fill="#ff0000"/><rect x="216" y="150" width="1" height="34" fill="#ff0000"/><rect x="215" y="158" width="3" height="26" fill="#ff0000"/><rect x="220" y="148" width="1" height="12" fill="#ff0000"/><rect x="219" y="152" width="3" height="7" fill="#ff0000"/><rect x="224" y="158" width="1" height="14" fill="#32cd32"/><rect x="223" y="160" width="3" height="10" fill="#32cd32"/><rect x="228" y="166" width="1" height="23" fill="#32cd32"/><rect x="227" y="170" width="3" height="8" fill="#32cd32"/><rect x="232" y="172" width="1" height="15" fill="#32cd32"/><rect x="231" y="176" width="3" height="4" fill="#32cd32"/><rect x="236" y="129" width="1" height="64" fill="#ff0000"/><rect x="235" y="155" width="3" height="25" fill="#ff0000"/><rect x="240" y="154" width="1" height="84" fill="#32cd32"/><rect x="239" y="155" width="3" height="83" fill="#32cd32"/><rect x="244" y="229" width="1" height="14" fill="#ff0000"/><rect x="243" y="236" width="3" height="2" fill="#ff0000"/><rect x="248" y="232" width="1" height="77" fill="#32cd32"/><rect x="247" y="234" width="3" height="75" fill="#32cd32"/><rect x="252" y="257" width="1" height="64" fill="#ff0000"/><rect x="251" y="264" width="3" height="46" fill="#ff0000"/><rect x="256" y="254" width="1" height="66" fill="#32cd32"/><rect x="255" y="264" width="3" height="53" fill="#32cd32"/><rect x="260" y="262" width="1" height="66" fill="#ff0000"/><rect x="259" y="285" width="3" height="32" fill="#ff0000"/><rect x="264" y="280" width="1" height="32" fill="#32cd32"/><rect x="263" y="286" width="3" height="24" fill="#32cd32"/><rect x="268" y="305" width="1" height="12" fill="#ff0000"/><rect x="267" y="307" width="3" height="8" fill="#ff0000"/><rect x="272" y="285" width="1" height="51" fill="#32cd32"/><rect x="271" y="305" width="3" height="19" fill="#32cd32"/><rect x="276" y="274" width="1" height="78" fill="#ff0000"/><rect x="275" y="290" width="3" height="34" fill="#ff0000"/><rect x="280" y="273" width="1" height="45" fill="#32cd32"/><rect x="279" y="290" width="3" height="8" fill="#32cd32"/><rect x="284" y="270" width="1" height="38" fill="#ff0000"/><rect x="283" y="279" width="3" height="19" fill="#ff0000"/><rect x="288" y="246" width="1" height="33" fill="#ff0000"/><rect x="287" y="252" width="3" height="27" fill="#ff0000"/><rect x="292" y="249" width="1" height="19" fill="#32cd32"/><rect x="291" y="252" width="3" height="14" fill="#32cd32"/><rect x="296" y="238" width="1" height="28" fill="#ff0000"/><rect x="295" y="245" width="3" height="17" fill="#ff0000"/><rect x="300" y="240" width="1" height="22" fill="#32cd32"/><rect x="299" y="246" width="3" height="12" fill="#32cd32"/><rect x="304" y="238" width="1" height="31" fill="#ff0000"/><rect x="303" y="240" width="3" height="18" fill="#ff0000"/><rect x="308" y="221" width="1" height="26" fill="#ff0000"/><rect x="307" y="227" width="3" height="13" fill="#ff0000"/><rect x="312" y="198" width="1" height="92" fill="#32cd32"/><rect x="311" y="228" width="3" height="62" fill="#32cd32"/><rect x="316" y="273" width="1" height="25" fill="#32cd32"/><rect x="315" y="288" width="3" height="6" fill="#32cd32"/><rect x="320" y="241" width="1" height="66" fill="#ff0000"/><rect x="319" y="264" width="3" height="43" fill="#ff0000"/><rect x="324" y="226" width="1" height="44" fill="#ff0000"/><rect x="323" y="240" width="3" height="26" fill="#ff0000"/><rect x="328" y="233" width="1" height="19" fill="#32cd32"/><rect x="327" y="242" width="3" height="6" fill="#32cd32"/><rect x="332" y="212" width="1" height="40" fill="#ff0000"/><rect x="331" y="214" width="3" height="34" fill="#ff0000"/><rect x="336" y="180" width="1" height="37" fill="#ff0000"/><rect x="335" y="182" width="3" height="34" fill="#ff0000"/><rect x="340" y="169" width="1" height="14" fill="#ff0000"/><rect x="339" y="177" width="3" height="6" fill="#ff0000"/><rect x="344" y="169" width="1" height="21" fill="#32cd32"/><rect x="343" y="179" width="3" height="11" fill="#32cd32"/><rect x="348" y="162" width="1" height="46" fill="#32cd32"/><rect x="347" y="177" width="3" height="26" fill="#32cd32"/><rect x="352" y="194" width="1" height="55" fill="#32cd32"/><rect x="351" y="202" width="3" height="39" fill="#32cd32"/><rect x="356" y="204" width="1" height="50" fill="#ff0000"/><rect x="355" y="204" width="3" height="37" fill="#ff0000"/><rect x="360" y="170" width="1" height="39" fill="#32cd32"/><rect x="359" y="204" width="3" height="2" fill="#32cd32"/><rect x="364" y="194" width="1" height="17" fill="#ff0000"/><rect x="363" y="196" width="3" height="11" fill="#ff0000"/><rect x="368" y="170" width="1" height="28" fill="#ff0000"/><rect x="367" y="175" width="3" height="21" fill="#ff0000"/><rect x="372" y="159" width="1" height="32" fill="#32cd32"/><rect x="371" y="175" width="3" height="2" fill="#32cd32"/><rect x="376" y="151" width="1" height="30" fill="#ff0000"/><rect x="375" y="158" width="3" height="19" fill="#ff0000"/><rect x="380" y="148" width="1" height="48" fill="#32cd32"/><rect x="379" y="158" width="3" height="31" fill="#32cd32"/><rect x="384" y="173" width="1" height="42" fill="#ff0000"/><rect x="383" y="183" width="3" height="6" fill="#ff0000"/><rect x="388" y="173" width="1" height="12" fill="#ff0000"/><rect x="387" y="174" width="3" height="10" fill="#ff0000"/><rect x="392" y="154" width="1" height="54" fill="#ff0000"/><rect x="391" y="168" width="3" height="32" fill="#ff0000"/><rect x="396" y="134" width="1" height="42" fill="#ff0000"/><rect x="395" y="164" width="3" height="6" fill="#ff0000"/><rect x="400" y="138" width="1" height="28" fill="#ff0000"/><rect x="399" y="146" width="3" height="18" fill="#ff0000"/><rect x="404" y="123" width="1" height="59" fill="#32cd32"/><rect x="403" y="146" width="3" height="16" fill="#32cd32"/><rect x="408" y="158" width="1" height="32" fill="#ff0000"/><rect x="407" y="160" width="3" height="2" fill="#ff0000"/><rect x="412" y="160" width="1" height="16" fill="#32cd32"/><rect x="411" y="160" width="3" height="12" fill="#32cd32"/><rect x="416" y="167" width="1" height="23" fill="#32cd32"/><rect x="415" y="172" width="3" height="16" fill="#32cd32"/><rect x="420" y="170" width="1" height="34" fill="#32cd32"/><rect x="419" y="186" width="3" height="16" fill="#32cd32"/><rect x="424" y="172" width="1" height="49" fill="#ff0000"/><rect x="423" y="175" width="3" height="27" fill="#ff0000"/><rect x="428" y="150" width="1" height="29" fill="#ff0000"/><rect x="427" y="162" width="3" height="14" fill="#ff0000"/><rect x="432" y="147" width="1" height="36" fill="#32cd32"/><rect x="431" y="162" width="3" height="8" fill="#32cd32"/><rect x="436" y="168" width="1" height="16" fill="#32cd32"/><rect x="435" y="168" width="3" height="12" fill="#32cd32"/><rect x="440" y="126" width="1" height="54" fill="#ff0000"/><rect x="439" y="126" width="3" height="53" fill="#ff0000"/><rect x="444" y="100" width="1" height="60" fill="#32cd32"/><rect x="443" y="126" width="3" height="32" fill="#32cd32"/><rect x="448" y="93" width="1" height="75" fill="#ff0000"/><rect x="447" y="128" width="3" height="30" fill="#ff0000"/><rect x="452" y="92" width="1" height="47" fill="#32cd32"/><rect x="451" y="129" width="3" height="2" fill="#32cd32"/><rect x="456" y="106" width="1" height="60" fill="#32cd32"/><rect x="455" y="128" width="3" height="12" fill="#32cd32"/><rect x="460" y="138" width="1" height="13" fill="#32cd32"/><rect x="459" y="140" width="3" height="9" fill="#32cd32"/><rect x="464" y="136" width="1" height="28" fill="#ff0000"/><rect x="463" y="149" width="3" height="2" fill="#ff0000"/><rect x="468" y="136" width="1" height="44" fill="#32cd32"/><rect x="467" y="147" width="3" height="7" fill="#32cd32"/><rect x="472" y="143" width="1" height="29" fill="#ff0000"/><rect x="471" y="146" width="3" height="8" fill="#ff0000"/><rect x="476" y="130" width="1" height="43" fill="#ff0000"/><rect x="475" y="144" width="3" height="4" fill="#ff0000"/><rect x="480" y="118" width="1" height="30" fill="#ff0000"/><rect x="479" y="134" width="3" height="11" fill="#ff0000"/><rect x="484" y="130" width="1" height="8" fill="#ff0000"/><rect x="483" y="130" width="3" height="6" fill="#ff0000"/><rect x="488" y="122" width="1" height="29" fill="#32cd32"/><rect x="487" y="124" width="3" height="10" fill="#32cd32"/><rect x="492" y="115" width="1" height="21" fill="#ff0000"/><rect x="491" y="124" width="3" height="8" fill="#ff0000"/><rect x="496" y="117" width="1" height="26" fill="#32cd32"/><rect x="495" y="124" width="3" height="18" fill="#32cd32"/><rect x="500" y="141" width="1" height="63" fill="#32cd32"/><rect x="499" y="141" width="3" height="63" fill="#32cd32"/><rect x="504" y="188" width="1" height="30" fill="#32cd32"/><rect x="503" y="202" width="3" height="12" fill="#32cd32"/><rect x="508" y="210" width="1" height="10" fill="#32cd32"/><rect x="507" y="212" width="3" height="4" fill="#32cd32"/><rect x="512" y="199" width="1" height="25" fill="#ff0000"/><rect x="511" y="205" width="3" height="15" fill="#ff0000"/><rect x="516" y="188" width="1" height="28" fill="#ff0000"/><rect x="515" y="188" width="3" height="18" fill="#ff0000"/><rect x="520" y="175" width="1" height="21" fill="#ff0000"/><rect x="519" y="176" width="3" height="16" fill="#ff0000"/><rect x="524" y="162" width="1" height="28" fill="#ff0000"/><rect x="523" y="165" width="3" height="13" fill="#ff0000"/><rect x="528" y="150" width="1" height="27" fill="#ff0000"/><rect x="527" y="150" width="3" height="17" fill="#ff0000"/><rect x="532" y="144" width="1" height="8" fill="#ff0000"/><rect x="531" y="148" width="3" height="4" fill="#ff0000"/><rect x="536" y="134" width="1" height="18" fill="#ff0000"/><rect x="535" y="140" width="3" height="12" fill="#ff0000"/><rect x="540" y="136" width="1" height="22" fill="#32cd32"/><rect x="539" y="140" width="3" height="16" fill="#32cd32"/><rect x="544" y="150" width="1" height="27" fill="#32cd32"/><rect x="543" y="156" width="3" height="21" fill="#32cd32"/><rect x="548" y="156" width="1" height="54" fill="#32cd32"/><rect x="547" y="176" width="3" height="30" fill="#32cd32"/><rect x="552" y="186" width="1" height="30" fill="#32cd32"/><rect x="551" y="204" width="3" height="10" fill="#32cd32"/><rect x="556" y="207" width="1" height="9" fill="#ff0000"/><rect x="555" y="210" width="3" height="4" fill="#ff0000"/><rect x="560" y="190" width="1" height="26" fill="#ff0000"/><rect x="559" y="208" width="3" height="6" fill="#ff0000"/><rect x="564" y="160" width="1" height="50" fill="#ff0000"/><rect x="563" y="168" width="3" height="41" fill="#ff0000"/><rect x="568" y="154" width="1" height="16" fill="#ff0000"/><rect x="567" y="164" width="3" height="5" fill="#ff0000"/><rect x="572" y="142" width="1" height="29" fill="#ff0000"/><rect x="571" y="148" width="3" height="17" fill="#ff0000"/><rect x="576" y="130" width="1" height="22" fill="#ff0000"/><rect x="575" y="135" width="3" height="15" fill="#ff0000"/><rect x="580" y="128" width="1" height="9" fill="#ff0000"/><rect x="579" y="128" width="3" height="8" fill="#ff0000"/><rect x="584" y="128" width="1" height="32" fill="#32cd32"/><rect x="583" y="133" width="3" height="19" fill="#32cd32"/><rect x="588" y="137" width="1" height="25" fill="#32cd32"/><rect x="587" y="150" width="3" height="4" fill="#32cd32"/><rect x="592" y="151" width="1" height="37" fill="#32cd32"/><rect x="591" y="152" width="3" height="36" fill="#32cd32"/><rect x="596" y="176" width="1" height="28" fill="#32cd32"/><rect x="595" y="186" width="3" height="8" fill="#32cd32"/><rect x="600" y="175" width="1" height="28" fill="#ff0000"/><rect x="599" y="186" width="3" height="8" fill="#ff0000"/><rect x="604" y="176" width="1" height="13" fill="#ff0000"/><rect x="603" y="184" width="3" height="3" fill="#ff0000"/><rect x="608" y="172" width="1" height="30" fill="#32cd32"/><rect x="607" y="189" width="3" height="11" fill="#32cd32"/><rect x="612" y="170" width="1" height="35" fill="#ff0000"/><rect x="611" y="184" width="3" height="16" fill="#ff0000"/><rect x="616" y="156" width="1" height="32" fill="#ff0000"/><rect x="615" y="166" width="3" height="19" fill="#ff0000"/><rect x="620" y="162" width="1" height="27" fill="#32cd32"/><rect x="619" y="166" width="3" height="9" fill="#32cd32"/><rect x="624" y="139" width="1" height="36" fill="#ff0000"/><rect x="623" y="142" width="3" height="33" fill="#ff0000"/><rect x="628" y="128" width="1" height="16" fill="#ff0000"/><rect x="627" y="130" width="3" height="12" fill="#ff0000"/><rect x="632" y="122" width="1" height="18" fill="#32cd32"/><rect x="631" y="127" width="3" height="5" fill="#32cd32"/><rect x="636" y="121" width="1" height="15" fill="#ff0000"/><rect x="635" y="122" width="3" height="10" fill="#ff0000"/><rect x="640" y="114" width="1" height="22" fill="#ff0000"/><rect x="639" y="117" width="3" height="6" fill="#ff0000"/><rect x="644" y="112" width="1" height="12" fill="#32cd32"/><rect x="643" y="118" width="3" height="4" fill="#32cd32"/><rect x="648" y="95" width="1" height="32" fill="#ff0000"/><rect x="647" y="116" width="3" height="6" fill="#ff0000"/><rect x="652" y="110" width="1" height="8" fill="#ff0000"/><rect x="651" y="110" width="3" height="7" fill="#ff0000"/><rect x="656" y="106" width="1" height="58" fill="#32cd32"/><rect x="655" y="113" width="3" height="49" fill="#32cd32"/><rect x="660" y="162" width="1" height="46" fill="#32cd32"/><rect x="659" y="162" width="3" height="46" fill="#32cd32"/><rect x="664" y="186" width="1" height="28" fill="#ff0000"/><rect x="663" y="192" width="3" height="16" fill="#ff0000"/><rect x="668" y="181" width="1" height="21" fill="#32cd32"/><rect x="667" y="190" width="3" height="6" fill="#32cd32"/><rect x="672" y="170" width="1" height="37" fill="#ff0000"/><rect x="671" y="175" width="3" height="19" fill="#ff0000"/><rect x="676" y="170" width="1" height="13" fill="#32cd32"/><rect x="675" y="174" width="3" height="8" fill="#32cd32"/><rect x="680" y="176" width="1" height="20" fill="#32cd32"/><rect x="679" y="184" width="3" height="10" fill="#32cd32"/><rect x="684" y="191" width="1" height="24" fill="#32cd32"/><rect x="683" y="193" width="3" height="17" fill="#32cd32"/><rect x="688" y="208" width="1" height="20" fill="#ff0000"/><rect x="687" y="208" width="3" height="2" fill="#ff0000"/><rect x="692" y="200" width="1" height="46" fill="#ff0000"/><rect x="691" y="204" width="3" height="5" fill="#ff0000"/><rect x="696" y="200" width="1" height="48" fill="#32cd32"/><rect x="695" y="204" width="3" height="29" fill="#32cd32"/><rect x="700" y="218" width="1" height="17" fill="#32cd32"/><rect x="699" y="222" width="3" height="11" fill="#32cd32"/><rect x="704" y="219" width="1" height="19" fill="#ff0000"/><rect x="703" y="224" width="3" height="6" fill="#ff0000"/><rect x="708" y="222" width="1" height="34" fill="#32cd32"/><rect x="707" y="224" width="3" height="32" fill="#32cd32"/><rect x="712" y="238" width="1" height="18" fill="#ff0000"/><rect x="711" y="242" width="3" height="14" fill="#ff0000"/><rect x="716" y="240" width="1" height="29" fill="#32cd32"/><rect x="715" y="242" width="3" height="22" fill="#32cd32"/><rect x="720" y="236" width="1" height="38" fill="#ff0000"/><rect x="719" y="240" width="3" height="24" fill="#ff0000"/><rect x="724" y="230" width="1" height="11" fill="#ff0000"/><rect x="723" y="233" width="3" height="7" fill="#ff0000"/><rect x="728" y="233" width="1" height="19" fill="#ff0000"/><rect x="727" y="237" width="3" height="3" fill="#ff0000"/><rect x="732" y="230" width="1" height="22" fill="#32cd32"/><rect x="731" y="237" width="3" height="13" fill="#32cd32"/><rect x="736" y="244" width="1" height="14" fill="#32cd32"/><rect x="735" y="250" width="3" height="4" fill="#32cd32"/><rect x="740" y="239" width="1" height="17" fill="#ff0000"/><rect x="739" y="243" width="3" height="13" fill="#ff0000"/><rect x="744" y="240" width="1" height="54" fill="#32cd32"/><rect x="743" y="243" width="3" height="39" fill="#32cd32"/><rect x="748" y="280" width="1" height="21" fill="#32cd32"/><rect x="747" y="282" width="3" height="18" fill="#32cd32"/><rect x="752" y="290" width="1" height="44" fill="#32cd32"/><rect x="751" y="292" width="3" height="37" fill="#32cd32"/><rect x="756" y="324" width="1" height="37" fill="#32cd32"/><rect x="755" y="328" width="3" height="5" fill="#32cd32"/><rect x="760" y="331" width="1" height="17" fill="#32cd32"/><rect x="759" y="333" width="3" height="7" fill="#32cd32"/><rect x="764" y="314" width="1" height="39" fill="#ff0000"/><rect x="763" y="329" width="3" height="19" fill="#ff0000"/><rect x="768" y="292" width="1" height="40" fill="#ff0000"/><rect x="767" y="316" width="3" height="13" fill="#ff0000"/><rect x="772" y="304" width="1" height="18" fill="#ff0000"/><rect x="771" y="306" width="3" height="12" fill="#ff0000"/><rect x="776" y="312" width="1" height="22" fill="#32cd32"/><rect x="775" y="318" width="3" height="15" fill="#32cd32"/><rect x="780" y="302" width="1" height="38" fill="#ff0000"/><rect x="779" y="308" width="3" height="24" fill="#ff0000"/><rect x="784" y="302" width="1" height="46" fill="#32cd32"/><rect x="783" y="308" width="3" height="12" fill="#32cd32"/><rect x="788" y="288" width="1" height="32" fill="#ff0000"/><rect x="787" y="301" width="3" height="19" fill="#ff0000"/><rect x="792" y="279" width="1" height="29" fill="#ff0000"/><rect x="791" y="299" width="3" height="3" fill="#ff0000"/><rect x="796" y="298" width="1" height="12" fill="#32cd32"/><rect x="795" y="299" width="3" height="6" fill="#32cd32"/><rect x="800" y="297" width="1" height="27" fill="#32cd32"/><rect x="799" y="301" width="3" height="17" fill="#32cd32"/><rect x="804" y="314" width="1" height="30" fill="#32cd32"/><rect x="803" y="316" width="3" height="20" fill="#32cd32"/><rect x="808" y="333" width="1" height="36" fill="#32cd32"/><rect x="807" y="334" width="3" height="24" fill="#32cd32"/><rect x="812" y="357" width="1" height="27" fill="#32cd32"/><rect x="811" y="357" width="3" height="7" fill="#32cd32"/><rect x="816" y="324" width="1" height="41" fill="#ff0000"/><rect x="815" y="338" width="3" height="27" fill="#ff0000"/><rect x="820" y="334" width="1" height="6" fill="#32cd32"/><rect x="819" y="337" width="3" height="1" fill="#32cd32"/><rect x="824" y="323" width="1" height="18" fill="#ff0000"/><rect x="823" y="326" width="3" height="13" fill="#ff0000"/><rect x="828" y="326" width="1" height="24" fill="#32cd32"/><rect x="827" y="326" width="3" height="13" fill="#32cd32"/><rect x="832" y="302" width="1" height="40" fill="#ff0000"/><rect x="831" y="322" width="3" height="17" fill="#ff0000"/><rect x="836" y="322" width="1" height="23" fill="#32cd32"/><rect x="835" y="322" width="3" height="8" fill="#32cd32"/><rect x="840" y="311" width="1" height="23" fill="#ff0000"/><rect x="839" y="316" width="3" height="13" fill="#ff0000"/><rect x="844" y="310" width="1" height="12" fill="#32cd32"/><rect x="843" y="316" width="3" height="2" fill="#32cd32"/><rect x="848" y="309" width="1" height="27" fill="#32cd32"/><rect x="847" y="322" width="3" height="3" fill="#32cd32"/><rect x="852" y="292" width="1" height="46" fill="#ff0000"/><rect x="851" y="296" width="3" height="29" fill="#ff0000"/><rect x="856" y="274" width="1" height="30" fill="#ff0000"/><rect x="855" y="287" width="3" height="10" fill="#ff0000"/><rect x="860" y="284" width="1" height="52" fill="#32cd32"/><rect x="859" y="287" width="3" height="49" fill="#32cd32"/><rect x="864" y="313" width="1" height="51" fill="#32cd32"/><rect x="863" y="334" width="3" height="28" fill="#32cd32"/><rect x="868" y="359" width="1" height="13" fill="#32cd32"/><rect x="867" y="362" width="3" height="8" fill="#32cd32"/><rect x="872" y="346" width="1" height="27" fill="#ff0000"/><rect x="871" y="349" width="3" height="21" fill="#ff0000"/><rect x="876" y="323" width="1" height="37" fill="#ff0000"/><rect x="875" y="324" width="3" height="28" fill="#ff0000"/><rect x="880" y="289" width="1" height="37" fill="#ff0000"/><rect x="879" y="302" width="3" height="23" fill="#ff0000"/><rect x="884" y="283" width="1" height="25" fill="#ff0000"/><rect x="883" y="288" width="3" height="14" fill="#ff0000"/><rect x="888" y="273" width="1" height="23" fill="#ff0000"/><rect x="887" y="278" width="3" height="12" fill="#ff0000"/><rect x="892" y="265" width="1" height="16" fill="#ff0000"/><rect x="891" y="271" width="3" height="8" fill="#ff0000"/><rect x="896" y="264" width="1" height="15" fill="#ff0000"/><rect x="895" y="273" width="3" height="5" fill="#ff0000"/><rect x="900" y="260" width="1" height="18" fill="#ff0000"/><rect x="899" y="272" width="3" height="2" fill="#ff0000"/><rect x="904" y="271" width="1" height="23" fill="#32cd32"/><rect x="903" y="272" width="3" height="4" fill="#32cd32"/><rect x="908" y="256" width="1" height="25" fill="#ff0000"/><rect x="907" y="264" width="3" height="13" fill="#ff0000"/><rect x="912" y="239" width="1" height="27" fill="#ff0000"/><rect x="911" y="242" width="3" height="24" fill="#ff0000"/><rect x="916" y="236" width="1" height="10" fill="#ff0000"/><rect x="915" y="239" width="3" height="4" fill="#ff0000"/><rect x="920" y="233" width="1" height="11" fill="#ff0000"/><rect x="919" y="239" width="3" height="4" fill="#ff0000"/><rect x="924" y="239" width="1" height="11" fill="#32cd32"/><rect x="923" y="239" width="3" height="8" fill="#32cd32"/></g>
<rect x="4" y="25" width="1162" height="2" fill="#ff0000"/>
<rect x="4" y="386" width="1162" height="2" fill="#0000ff"/>
<rect x="4" y="123" width="4" height="4" fill="#fff" stroke="#ff0000" stroke-width="2"/>
<rect x="4" y="274" width="4" height="4" fill="#fff" stroke="#00ff00" stroke-width="2"/>
<rect x="4" y="385" width="4" height="4" fill="#fff" stroke="#0000ff" stroke-width="2"/>
<rect x="1161" y="123" width="4" height="4" fill="#fff" stroke="#ff0000" stroke-width="2"/>
<rect x="1161" y="274" width="4" height="4" fill="#fff" stroke="#00ff00" stroke-width="2"/>
<rect x="1161" y="385" width="4" height="4" fill="#fff" stroke="#0000ff" stroke-width="2"/>
<defs><clipPath id="cm"><rect x="4" y="396" width="1162" height="62"/></clipPath></defs>
<g clip-path="url(#cm)"><rect x="3" y="415" width="3" height="13" fill="#c0c0c0"/><rect x="7" y="415" width="3" height="12" fill="#c0c0c0"/><rect x="11" y="415" width="3" height="11" fill="#c0c0c0"/><rect x="15" y="415" width="3" height="11" fill="#c0c0c0"/><rect x="19" y="415" width="3" height="11" fill="#c0c0c0"/><rect x="23" y="415" width="3" height="12" fill="#c0c0c0"/><rect x="27" y="415" width="3" height="14" fill="#c0c0c0"/><rect x="31" y="415" width="3" height="18" fill="#c0c0c0"/><rect x="35" y="415" width="3" height="20" fill="#c0c0c0"/><rect x="39" y="415" width="3" height="23" fill="#c0c0c0"/><rect x="43" y="415" width="3" height="27" fill="#c0c0c0"/><rect x="47" y="415" width="3" height="29" fill="#c0c0c0"/><rect x="51" y="415" width="3" height="32" fill="#c0c0c0"/><rect x="55" y="415" width="3" height="33" fill="#c0c0c0"/><rect x="59" y="415" width="3" height="32" fill="#c0c0c0"/><rect x="63" y="415" width="3" height="29" fill="#c0c0c0"/><rect x="67" y="415" width="3" height="26" fill="#c0c0c0"/><rect x="71" y="415" width="3" height="24" fill="#c0c0c0"/><rect x="75" y="415" width="3" height="22" fill="#c0c0c0"/><rect x="79" y="415" width="3" height="20" fill="#c0c0c0"/><rect x="83" y="415" width="3" height="17" fill="#c0c0c0"/><rect x="87" y="415" width="3" height="16" fill="#c0c0c0"/><rect x="91" y="415" width="3" height="18" fill="#c0c0c0"/><rect x="95" y="415" width="3" height="24" fill="#c0c0c0"/><rect x="99" y="415" width="3" height="30" fill="#c0c0c0"/><rect x="103" y="415" width="3" height="35" fill="#c0c0c0"/><rect x="107" y="415" width="3" height="39" fill="#c0c0c0"/><rect x="111" y="415" width="3" height="41" fill="#c0c0c0"/><rect x="115" y="415" width="3" height="41" fill="#c0c0c0"/><rect x="119" y="415" width="3" height="41" fill="#c0c0c0"/><rect x="123" y="415" width="3" height="39" fill="#c0c0c0"/><rect x="127" y="415" width="3" height="35" fill="#c0c0c0"/><rect x="131" y="415" width="3" height="31" fill="#c0c0c0"/><rect x="135" y="415" width="3" height="27" fill="#c0c0c0"/><rect x="139" y="415" width="3" height="23" fill="#c0c0c0"/><rect x="143" y="415" width="3" height="19" fill="#c0c0c0"/><rect x="147" y="415" width="3" height="15" fill="#c0c0c0"/><rect x="151" y="415" width="3" height="11" fill="#c0c0c0"/><rect x="155" y="415" width="3" height="8" fill="#c0c0c0"/><rect x="159" y="415" width="3" height="6" fill="#c0c0c0"/><rect x="163" y="415" width="3" height="5" fill="#c0c0c0"/><rect x="167" y="415" width="3" height="5" fill="#c0c0c0"/><rect x="171" y="415" width="3" height="6" fill="#c0c0c0"/><rect x="175" y="415" width="3" height="7" fill="#c0c0c0"/><rect x="179" y="415" width="3" height="6" fill="#c0c0c0"/><rect x="183" y="415" width="3" height="6" fill="#c0c0c0"/><rect x="187" y="415" width="3" height="6" fill="#c0c0c0"/><rect x="191" y="415" width="3" height="7" fill="#c0c0c0"/><rect x="195" y="415" width="3" height="9" fill="#c0c0c0"/><rect x="199" y="415" width="3" height="10" fill="#c0c0c0"/><rect x="203" y="415" width="3" height="9" fill="#c0c0c0"/><rect x="207" y="415" width="3" height="7" fill="#c0c0c0"/><rect x="211" y="415" width="3" height="3" fill="#c0c0c0"/><rect x="215" y="415" width="3" height="1" fill="#c0c0c0"/><rect x="219" y="413" width="3" height="2" fill="#c0c0c0"/><rect x="223" y="412" width="3" height="3" fill="#c0c0c0"/><rect x="227" y="411" width="3" height="4" fill="#c0c0c0"/><rect x="231" y="410" width="3" height="5" fill="#c0c0c0"/><rect x="235" y="410" width="3" height="5" fill="#c0c0c0"/><rect x="239" y="413" width="3" height="2" fill="#c0c0c0"/><rect x="243" y="415" width="3" height="2" fill="#c0c0c0"/><rect x="247" y="415" width="3" height="8" fill="#c0c0c0"/><rect x="251" y="415" width="3" height="12" fill="#c0c0c0"/><rect x="255" y="415" width="3" height="16" fill="#c0c0c0"/><rect x="259" y="415" width="3" height="20" fill="#c0c0c0"/><rect x="263" y="415" width="3" height="22" fill="#c0c0c0"/><rect x="267" y="415" width="3" height="24" fill="#c0c0c0"/><rect x="271" y="415" width="3" height="26" fill="#c0c0c0"/><rect x="275" y="415" width="3" height="25" fill="#c0c0c0"/><rect x="279" y="415" width="3" height="24" fill="#c0c0c0"/><rect x="283" y="415" width="3" height="22" fill="#c0c0c0"/><rect x="287" y="415" width="3" height="20" fill="#c0c0c0"/><rect x="291" y="415" width="3" height="17" fill="#c0c0c0"/><rect x="295" y="415" width="3" height="15" fill="#c0c0c0"/><rect x="299" y="415" width="3" height="13" fill="#c0c0c0"/><rect x="303" y="415" width="3" height="11" fill="#c0c0c0"/><rect x="307" y="415" width="3" height="9" fill="#c0c0c0"/><rect x="311" y="415" width="3" height="8" fill="#c0c0c0"/><rect x="315" y="415" width="3" height="8" fill="#c0c0c0"/><rect x="319" y="415" width="3" height="7" fill="#c0c0c0"/><rect x="323" y="415" width="3" height="6" fill="#c0c0c0"/><rect x="327" y="415" width="3" height="5" fill="#c0c0c0"/><rect x="331" y="415" width="3" height="2" fill="#c0c0c0"/><rect x="335" y="413" width="3" height="2" fill="#c0c0c0"/><rect x="339" y="409" width="3" height="6" fill="#c0c0c0"/><rect x="343" y="407" width="3" height="8" fill="#c0c0c0"/><rect x="347" y="405" width="3" height="10" fill="#c0c0c0"/><rect x="351" y="406" width="3" height="9" fill="#c0c0c0"/><rect x="355" y="406" width="3" height="9" fill="#c0c0c0"/><rect x="359" y="406" width="3" height="9" fill="#c0c0c0"/><rect x="363" y="405" width="3" height="10" fill="#c0c0c0"/><rect x="367" y="403" width="3" height="12" fill="#c0c0c0"/><rect x="371" y="402" width="3" height="13" fill="#c0c0c0"/><rect x="375" y="402" width="3" height="13" fill="#c0c0c0"/><rect x="379" y="401" width="3" height="14" fill="#c0c0c0"/><rect x="383" y="401" width="3" height="14" fill="#c0c0c0"/><rect x="387" y="401" width="3" height="14" fill="#c0c0c0"/><rect x="391" y="401" width="3" height="14" fill="#c0c0c0"/><rect x="395" y="401" width="3" height="14" fill="#c0c0c0"/><rect x="399" y="400" width="3" height="15" fill="#c0c0c0"/><rect x="403" y="399" width="3" height="16" fill="#c0c0c0"/><rect x="407" y="399" width="3" height="16" fill="#c0c0c0"/><rect x="411" y="401" width="3" height="14" fill="#c0c0c0"/><rect x="415" y="403" width="3" height="12" fill="#c0c0c0"/><rect x="419" y="405" width="3" height="10" fill="#c0c0c0"/><rect x="423" y="406" width="3" height="9" fill="#c0c0c0"/><rect x="427" y="405" width="3" height="10" fill="#c0c0c0"/><rect x="431" y="406" width="3" height="9" fill="#c0c0c0"/><rect x="435" y="406" width="3" height="9" fill="#c0c0c0"/><rect x="439" y="406" width="3" height="9" fill="#c0c0c0"/><rect x="443" y="405" width="3" height="10" fill="#c0c0c0"/><rect x="447" y="403" width="3" height="12" fill="#c0c0c0"/><rect x="451" y="403" width="3" height="12" fill="#c0c0c0"/><rect x="455" y="402" width="3" height="13" fill="#c0c0c0"/><rect x="459" y="403" width="3" height="12" fill="#c0c0c0"/><rect x="463" y="403" width="3" height="12" fill="#c0c0c0"/><rect x="467" y="403" width="3" height="12" fill="#c0c0c0"/><rect x="471" y="404" width="3" height="11" fill="#c0c0c0"/><rect x="475" y="404" width="3" height="11" fill="#c0c0c0"/><rect x="479" y="404" width="3" height="11" fill="#c0c0c0"/><rect x="483" y="404" width="3" height="11" fill="#c0c0c0"/><rect x="487" y="404" width="3" height="11" fill="#c0c0c0"/><rect x="491" y="405" width="3" height="10" fill="#c0c0c0"/><rect x="495" y="407" width="3" height="8" fill="#c0c0c0"/><rect x="499" y="410" width="3" height="5" fill="#c0c0c0"/><rect x="503" y="414" width="3" height="1" fill="#c0c0c0"/><rect x="507" y="415" width="3" height="3" fill="#c0c0c0"/><rect x="511" y="415" width="3" height="6" fill="#c0c0c0"/><rect x="515" y="415" width="3" height="6" fill="#c0c0c0"/><rect x="519" y="415" width="3" height="6" fill="#c0c0c0"/><rect x="523" y="415" width="3" height="4" fill="#c0c0c0"/><rect x="527" y="415" width="3" height="2" fill="#c0c0c0"/><rect x="531" y="415" width="3" height="1" fill="#c0c0c0"/><rect x="535" y="414" width="3" height="1" fill="#c0c0c0"/><rect x="539" y="414" width="3" height="1" fill="#c0c0c0"/><rect x="543" y="415" width="3" height="1" fill="#c0c0c0"/><rect x="547" y="415" width="3" height="3" fill="#c0c0c0"/><rect x="551" y="415" width="3" height="5" fill="#c0c0c0"/><rect x="555" y="415" width="3" height="7" fill="#c0c0c0"/><rect x="559" y="415" width="3" height="8" fill="#c0c0c0"/><rect x="563" y="415" width="3" height="7" fill="#c0c0c0"/><rect x="567" y="415" width="3" height="4" fill="#c0c0c0"/><rect x="571" y="415" width="3" height="2" fill="#c0c0c0"/><rect x="575" y="415" width="3" height="1" fill="#c0c0c0"/><rect x="579" y="413" width="3" height="2" fill="#c0c0c0"/><rect x="583" y="411" width="3" height="4" fill="#c0c0c0"/><rect x="587" y="411" width="3" height="4" fill="#c0c0c0"/><rect x="591" y="413" width="3" height="2" fill="#c0c0c0"/><rect x="595" y="415" width="3" height="1" fill="#c0c0c0"/><rect x="599" y="415" width="3" height="2" fill="#c0c0c0"/><rect x="603" y="415" width="3" height="4" fill="#c0c0c0"/><rect x="607" y="415" width="3" height="4" fill="#c0c0c0"/><rect x="611" y="415" width="3" height="4" fill="#c0c0c0"/><rect x="615" y="415" width="3" height="3" fill="#c0c0c0"/><rect x="619" y="415" width="3" height="2" fill="#c0c0c0"/><rect x="623" y="415" width="3" height="1" fill="#c0c0c0"/><rect x="627" y="414" width="3" height="1" fill="#c0c0c0"/><rect x="631" y="411" width="3" height="4" fill="#c0c0c0"/><rect x="635" y="409" width="3" height="6" fill="#c0c0c0"/><rect x="639" y="408" width="3" height="7" fill="#c0c0c0"/><rect x="643" y="406" width="3" height="9" fill="#c0c0c0"/><rect x="647" y="405" width="3" height="10" fill="#c0c0c0"/><rect x="651" y="404" width="3" height="11" fill="#c0c0c0"/><rect x="655" y="407" width="3" height="8" fill="#c0c0c0"/><rect x="659" y="412" width="3" height="3" fill="#c0c0c0"/><rect x="663" y="415" width="3" height="1" fill="#c0c0c0"/><rect x="667" y="415" width="3" height="3" fill="#c0c0c0"/><rect x="671" y="415" width="3" height="3" fill="#c0c0c0"/><rect x="675" y="415" width="3" height="5" fill="#c0c0c0"/><rect x="679" y="415" width="3" height="6" fill="#c0c0c0"/><rect x="683" y="415" width="3" height="8" fill="#c0c0c0"/><rect x="687" y="415" width="3" height="9" fill="#c0c0c0"/><rect x="691" y="415" width="3" height="10" fill="#c0c0c0"/><rect x="695" y="415" width="3" height="12" fill="#c0c0c0"/><rect x="699" y="415" width="3" height="13" fill="#c0c0c0"/><rect x="703" y="415" width="3" height="15" fill="#c0c0c0"/><rect x="707" y="415" width="3" height="16" fill="#c0c0c0"/><rect x="711" y="415" width="3" height="18" fill="#c0c0c0"/><rect x="715" y="415" width="3" height="19" fill="#c0c0c0"/><rect x="719" y="415" width="3" height="19" fill="#c0c0c0"/><rect x="723" y="415" width="3" height="18" fill="#c0c0c0"/><rect x="727" y="415" width="3" height="17" fill="#c0c0c0"/><rect x="731" y="415" width="3" height="17" fill="#c0c0c0"/><rect x="735" y="415" width="3" height="18" fill="#c0c0c0"/><rect x="739" y="415" width="3" height="19" fill="#c0c0c0"/><rect x="743" y="415" width="3" height="21" fill="#c0c0c0"/><rect x="747" y="415" width="3" height="23" fill="#c0c0c0"/><rect x="751" y="415" width="3" height="25" fill="#c0c0c0"/><rect x="755" y="415" width="3" height="27" fill="#c0c0c0"/><rect x="759" y="415" width="3" height="29" fill="#c0c0c0"/><rect x="763" y="415" width="3" height="30" fill="#c0c0c0"/><rect x="767" y="415" width="3" height="30" fill="#c0c0c0"/><rect x="771" y="415" width="3" height="29" fill="#c0c0c0"/><rect x="775" y="415" width="3" height="28" fill="#c0c0c0"/><rect x="779" y="415" width="3" height="27" fill="#c0c0c0"/><rect x="783" y="415" width="3" height="26" fill="#c0c0c0"/><rect x="787" y="415" width="3" height="24" fill="#c0c0c0"/><rect x="791" y="415" width="3" height="23" fill="#c0c0c0"/><rect x="795" y="415" width="3" height="22" fill="#c0c0c0"/><rect x="799" y="415" width="3" height="21" fill="#c0c0c0"/><rect x="803" y="415" width="3" height="21" fill="#c0c0c0"/><rect x="807" y="415" width="3" height="21" fill="#c0c0c0"/><rect x="811" y="415" width="3" height="22" fill="#c0c0c0"/><rect x="815" y="415" width="3" height="21" fill="#c0c0c0"/><rect x="819" y="415" width="3" height="21" fill="#c0c0c0"/><rect x="823" y="415" width="3" height="20" fill="#c0c0c0"/><rect x="827" y="415" width="3" height="19" fill="#c0c0c0"/><rect x="831" y="415" width="3" height="17" fill="#c0c0c0"/><rect x="835" y="415" width="3" height="16" fill="#c0c0c0"/><rect x="839" y="415" width="3" height="15" fill="#c0c0c0"/><rect x="843" y="415" width="3" height="13" fill="#c0c0c0"/><rect x="847" y="415" width="3" height="11" fill="#c0c0c0"/><rect x="851" y="415" width="3" height="9" fill="#c0c0c0"/><rect x="855" y="415" width="3" height="7" fill="#c0c0c0"/><rect x="859" y="415" width="3" height="7" fill="#c0c0c0"/><rect x="863" y="415" width="3" height="9" fill="#c0c0c0"/><rect x="867" y="415" width="3" height="11" fill="#c0c0c0"/><rect x="871" y="415" width="3" height="11" fill="#c0c0c0"/><rect x="875" y="415" width="3" height="10" fill="#c0c0c0"/><rect x="879" y="415" width="3" height="8" fill="#c0c0c0"/><rect x="883" y="415" width="3" height="5" fill="#c0c0c0"/><rect x="887" y="415" width="3" height="3" fill="#c0c0c0"/><rect x="891" y="414" width="3" height="1" fill="#c0c0c0"/><rect x="895" y="412" width="3" height="3" fill="#c0c0c0"/><rect x="899" y="411" width="3" height="4" fill="#c0c0c0"/><rect x="903" y="409" width="3" height="6" fill="#c0c0c0"/><rect x="907" y="407" width="3" height="8" fill="#c0c0c0"/><rect x="911" y="405" width="3" height="10" fill="#c0c0c0"/><rect x="915" y="403" width="3" height="12" fill="#c0c0c0"/><rect x="919" y="401" width="3" height="14" fill="#c0c0c0"/><rect x="923" y="401" width="3" height="14" fill="#c0c0c0"/><path d="M402 400.5h9M394 401.5h8M411 401.5h9M388 402.5h6M420 402.5h8M380 403.5h8M428 403.5h8M469 403.5h9M373 404.5h7M436 404.5h8M453 404.5h16M478 404.5h20M370 405.5h3M444 405.5h9M498 405.5h6M368 406.5h2M504 406.5h2M365 407.5h3M506 407.5h2M922 407.5h2M362 408.5h3M508 408.5h2M655 408.5h13M920 408.5h2M359 409.5h3M510 409.5h2M651 409.5h4M668 409.5h4M917 409.5h3M357 410.5h2M512 410.5h2M649 410.5h2M672 410.5h3M914 410.5h3M354 411.5h3M514 411.5h2M647 411.5h2M675 411.5h2M912 411.5h2M351 412.5h3M516 412.5h3M645 412.5h2M677 412.5h2M909 412.5h3M240 413.5h9M349 413.5h2M519 413.5h2M642 413.5h3M679 413.5h2M907 413.5h2M236 414.5h4M249 414.5h4M347 414.5h2M521 414.5h2M595 414.5h17M638 414.5h4M681 414.5h3M905 414.5h2M233 415.5h3M253 415.5h2M345 415.5h2M523 415.5h3M591 415.5h4M612 415.5h7M633 415.5h5M684 415.5h2M904 415.5h1M230 416.5h3M255 416.5h2M343 416.5h2M526 416.5h4M587 416.5h4M619 416.5h6M629 416.5h4M686 416.5h2M902 416.5h2M228 417.5h2M257 417.5h2M341 417.5h2M530 417.5h5M544 417.5h8M583 417.5h4M625 417.5h4M688 417.5h2M900 417.5h2M224 418.5h4M259 418.5h1M339 418.5h2M535 418.5h9M552 418.5h17M577 418.5h6M690 418.5h3M898 418.5h2M220 419.5h4M260 419.5h2M337 419.5h2M569 419.5h8M693 419.5h2M895 419.5h3M4 420.5h2M182 420.5h15M215 420.5h5M262 420.5h1M335 420.5h2M695 420.5h3M891 420.5h4M6 421.5h4M178 421.5h4M197 421.5h8M211 421.5h4M263 421.5h1M333 421.5h2M698 421.5h2M887 421.5h4M10 422.5h4M175 422.5h3M205 422.5h6M264 422.5h2M331 422.5h2M700 422.5h2M883 422.5h4M14 423.5h4M172 423.5h3M266 423.5h1M329 423.5h2M702 423.5h2M879 423.5h4M18 424.5h4M170 424.5h2M267 424.5h1M325 424.5h4M704 424.5h2M875 424.5h4M22 425.5h4M168 425.5h2M268 425.5h1M321 425.5h4M706 425.5h3M862 425.5h13M26 426.5h4M166 426.5h2M269 426.5h2M318 426.5h3M709 426.5h4M858 426.5h4M30 427.5h4M165 427.5h1M271 427.5h1M315 427.5h3M713 427.5h4M855 427.5h3M34 428.5h5M164 428.5h1M272 428.5h1M313 428.5h2M717 428.5h3M853 428.5h2M39 429.5h3M162 429.5h2M273 429.5h1M310 429.5h3M720 429.5h3M851 429.5h2M42 430.5h2M161 430.5h1M274 430.5h2M308 430.5h2M723 430.5h5M849 430.5h2M44 431.5h1M160 431.5h1M276 431.5h1M306 431.5h2M728 431.5h8M847 431.5h2M45 432.5h2M159 432.5h1M277 432.5h2M305 432.5h1M736 432.5h6M844 432.5h3M47 433.5h2M158 433.5h1M279 433.5h2M304 433.5h1M742 433.5h4M841 433.5h3M49 434.5h1M157 434.5h1M281 434.5h2M302 434.5h2M746 434.5h13M834 434.5h7M50 435.5h2M156 435.5h1M283 435.5h2M300 435.5h2M759 435.5h2M823 435.5h11M52 436.5h2M91 436.5h10M155 436.5h1M285 436.5h15M761 436.5h3M812 436.5h11M54 437.5h2M87 437.5h4M101 437.5h2M154 437.5h1M764 437.5h3M804 437.5h8M56 438.5h2M85 438.5h2M103 438.5h2M153 438.5h1M767 438.5h2M800 438.5h4M58 439.5h2M83 439.5h2M105 439.5h2M152 439.5h1M769 439.5h3M796 439.5h4M60 440.5h2M81 440.5h2M107 440.5h1M151 440.5h1M772 440.5h3M793 440.5h3M62 441.5h3M78 441.5h3M108 441.5h2M150 441.5h1M775 441.5h4M790 441.5h3M65 442.5h4M74 442.5h4M110 442.5h1M149 442.5h1M779 442.5h11M69 443.5h5M111 443.5h2M147 443.5h2M113 444.5h2M146 444.5h1M115 445.5h2M145 445.5h1M117 446.5h2M144 446.5h1M119 447.5h2M143 447.5h1M121 448.5h2M141 448.5h2M123 449.5h3M139 449.5h2M126 450.5h4M137 450.5h2M130 451.5h7" fill="none" stroke="#ff0000" stroke-width="1" shape-rendering="crispEdges"/></g>
<line x1="4" y1="484.5" x2="1166" y2="484.5" stroke="#c0c0c0" stroke-width="1" stroke-dasharray="3,3"/>
<line x1="4" y1="514.5" x2="1166" y2="514.5" stroke="#c0c0c0" stroke-width="1" stroke-dasharray="3,3"/>
<path d="M5.5 510v2M6.5 508v2M7.5 506v2M10.5 502v2M54.5 515v2M59.5 509v2M69.5 502v2M86.5 500v2M88.5 503v2M89.5 505v2M90.5 507v3M91.5 510v2M92.5 512v2M124.5 512v2M125.5 509v3M126.5 505v4M127.5 502v3M128.5 500v2M140.5 499v2M142.5 496v2M178.5 500v2M209.5 498v2M212.5 494v2M235.5 493v2M236.5 492v2M237.5 494v4M238.5 498v4M239.5 502v3M245.5 506v2M246.5 508v2M247.5 510v2M249.5 510v2M250.5 508v2M251.5 506v2M275.5 506v2M308.5 496v2M309.5 498v2M310.5 500v2M311.5 502v2M350.5 496v2M351.5 498v2M353.5 498v2M355.5 495v2M377.5 490v2M379.5 493v2M423.5 497v2M437.5 496v2M438.5 494v2M439.5 491v3M440.5 489v2M441.5 490v2M442.5 492v2M443.5 494v2M495.5 495v2M496.5 497v2M497.5 499v2M498.5 501v2M499.5 503v2M500.5 505v2M542.5 499v2M545.5 503v2M560.5 504v2M561.5 502v2M562.5 500v2M563.5 498v2M582.5 493v2M589.5 497v2M590.5 499v2M591.5 501v2M621.5 495v2M651.5 487v2M652.5 489v2M653.5 491v2M654.5 493v2M655.5 495v3M656.5 498v2M657.5 500v3M658.5 503v3M659.5 506v2M660.5 508v2M662.5 506v2M706.5 510v2M714.5 509v2M742.5 507v2M778.5 508v2M814.5 509v2M849.5 500v2M850.5 498v2M851.5 496v2M855.5 493v2M856.5 495v2M857.5 497v2M858.5 499v2M859.5 501v2M861.5 504v2M874.5 503v2M876.5 500v2M650 487.5h1M911 487.5h11M647 488.5h3M910 488.5h1M922 488.5h3M339 489.5h3M376 489.5h1M399 489.5h1M636 489.5h11M909 489.5h1M337 490.5h2M342 490.5h2M375 490.5h1M397 490.5h2M400 490.5h1M578 490.5h2M630 490.5h6M908 490.5h1M218 491.5h3M335 491.5h2M344 491.5h2M374 491.5h1M396 491.5h1M401 491.5h2M487 491.5h5M576 491.5h2M580 491.5h1M626 491.5h4M907 491.5h1M215 492.5h3M221 492.5h2M334 492.5h1M346 492.5h1M369 492.5h5M378 492.5h1M394 492.5h2M403 492.5h1M447 492.5h8M482 492.5h5M492 492.5h1M574 492.5h2M581 492.5h1M624 492.5h2M890 492.5h12M905 492.5h2M150 493.5h3M213 493.5h2M223 493.5h2M333 493.5h1M347 493.5h1M367 493.5h2M384 493.5h10M404 493.5h5M428 493.5h2M445 493.5h2M455 493.5h4M480 493.5h2M493 493.5h1M534 493.5h2M572 493.5h2M623 493.5h1M885 493.5h5M902 493.5h3M148 494.5h2M153 494.5h3M225 494.5h1M332 494.5h1M348 494.5h1M356 494.5h1M365 494.5h2M382 494.5h2M409 494.5h2M426 494.5h2M430 494.5h2M444 494.5h1M459 494.5h3M478 494.5h2M494 494.5h1M532 494.5h2M536 494.5h1M571 494.5h1M622 494.5h1M853 494.5h2M883 494.5h2M143 495.5h5M156 495.5h1M226 495.5h2M234 495.5h1M307 495.5h1M330 495.5h2M349 495.5h1M357 495.5h2M362 495.5h3M380 495.5h2M411 495.5h2M425 495.5h1M432 495.5h2M462 495.5h4M472 495.5h6M529 495.5h3M537 495.5h1M569 495.5h2M583 495.5h1M852 495.5h1M881 495.5h2M157 496.5h2M211 496.5h1M228 496.5h6M306 496.5h1M329 496.5h1M359 496.5h3M413 496.5h2M424 496.5h1M434 496.5h2M466 496.5h6M526 496.5h3M538 496.5h2M566 496.5h3M584 496.5h5M616 496.5h1M880 496.5h1M159 497.5h1M210 497.5h1M304 497.5h2M323 497.5h2M328 497.5h1M354 497.5h1M415 497.5h1M436 497.5h1M524 497.5h2M540 497.5h1M564 497.5h2M615 497.5h1M617 497.5h2M620 497.5h1M879 497.5h1M83 498.5h2M141 498.5h1M160 498.5h2M180 498.5h2M296 498.5h4M303 498.5h1M322 498.5h1M325 498.5h3M416 498.5h1M522 498.5h2M541 498.5h1M614 498.5h1M619 498.5h1M878 498.5h1M80 499.5h3M85 499.5h1M162 499.5h3M179 499.5h1M182 499.5h3M289 499.5h2M294 499.5h2M300 499.5h3M321 499.5h1M417 499.5h2M422 499.5h1M520 499.5h2M613 499.5h1M877 499.5h1M12 500.5h1M71 500.5h9M129 500.5h7M165 500.5h1M185 500.5h2M207 500.5h2M288 500.5h1M291 500.5h3M320 500.5h1M352 500.5h1M419 500.5h1M421 500.5h1M519 500.5h1M612 500.5h1M842 500.5h4M11 501.5h1M13 501.5h2M17 501.5h3M70 501.5h1M136 501.5h4M166 501.5h2M187 501.5h1M205 501.5h2M287 501.5h1M319 501.5h1M420 501.5h1M518 501.5h1M543 501.5h1M611 501.5h1M838 501.5h4M846 501.5h2M15 502.5h2M20 502.5h1M87 502.5h1M168 502.5h1M177 502.5h1M188 502.5h1M204 502.5h1M286 502.5h1M318 502.5h1M517 502.5h1M544 502.5h1M599 502.5h3M610 502.5h1M672 502.5h3M833 502.5h1M836 502.5h2M848 502.5h1M875 502.5h1M21 503.5h1M169 503.5h3M176 503.5h1M189 503.5h1M203 503.5h1M284 503.5h2M317 503.5h1M516 503.5h1M592 503.5h2M597 503.5h2M602 503.5h3M609 503.5h1M670 503.5h2M675 503.5h2M832 503.5h1M834 503.5h2M860 503.5h1M9 504.5h1M22 504.5h1M68 504.5h1M172 504.5h4M190 504.5h1M202 504.5h1M240 504.5h2M277 504.5h2M282 504.5h2M312 504.5h5M515 504.5h1M594 504.5h3M605 504.5h2M608 504.5h1M668 504.5h2M677 504.5h2M788 504.5h8M823 504.5h2M830 504.5h2M8 505.5h1M23 505.5h1M65 505.5h3M191 505.5h5M201 505.5h1M242 505.5h3M276 505.5h1M279 505.5h3M514 505.5h1M546 505.5h1M607 505.5h1M663 505.5h5M679 505.5h3M723 505.5h6M740 505.5h1M786 505.5h2M796 505.5h2M821 505.5h2M825 505.5h2M829 505.5h1M873 505.5h1M24 506.5h2M62 506.5h3M196 506.5h5M259 506.5h1M513 506.5h1M547 506.5h2M558 506.5h2M682 506.5h2M689 506.5h4M721 506.5h2M729 506.5h2M738 506.5h2M741 506.5h1M780 506.5h2M784 506.5h2M798 506.5h2M818 506.5h3M827 506.5h2M862 506.5h1M871 506.5h2M26 507.5h2M61 507.5h1M252 507.5h1M258 507.5h1M260 507.5h2M265 507.5h4M501 507.5h1M511 507.5h2M549 507.5h2M554 507.5h4M684 507.5h5M693 507.5h1M699 507.5h3M720 507.5h1M731 507.5h2M735 507.5h3M779 507.5h1M782 507.5h2M800 507.5h2M816 507.5h2M863 507.5h1M870 507.5h1M28 508.5h2M60 508.5h1M253 508.5h1M257 508.5h1M262 508.5h3M269 508.5h3M274 508.5h1M502 508.5h2M509 508.5h2M551 508.5h3M661 508.5h1M694 508.5h2M697 508.5h2M702 508.5h3M713 508.5h1M719 508.5h1M733 508.5h2M802 508.5h2M815 508.5h1M864 508.5h2M868 508.5h2M30 509.5h2M254 509.5h1M256 509.5h1M272 509.5h2M504 509.5h5M696 509.5h1M705 509.5h1M712 509.5h1M717 509.5h2M743 509.5h1M771 509.5h3M804 509.5h2M866 509.5h2M32 510.5h2M255 510.5h1M711 510.5h1M716 510.5h1M744 510.5h1M769 510.5h2M774 510.5h2M777 510.5h1M806 510.5h2M34 511.5h1M58 511.5h1M710 511.5h1M715 511.5h1M745 511.5h2M768 511.5h1M776 511.5h1M808 511.5h1M813 511.5h1M4 512.5h1M35 512.5h2M57 512.5h1M248 512.5h1M707 512.5h1M709 512.5h1M747 512.5h1M767 512.5h1M809 512.5h2M812 512.5h1M37 513.5h1M56 513.5h1M114 513.5h10M708 513.5h1M748 513.5h1M766 513.5h1M811 513.5h1M38 514.5h2M55 514.5h1M93 514.5h1M112 514.5h2M749 514.5h2M765 514.5h1M40 515.5h3M94 515.5h2M111 515.5h1M751 515.5h2M763 515.5h2M43 516.5h4M96 516.5h2M109 516.5h2M753 516.5h3M760 516.5h3M47 517.5h4M53 517.5h1M98 517.5h3M107 517.5h2M756 517.5h4M51 518.5h2M101 518.5h2M105 518.5h2M103 519.5h2" fill="none" stroke="#1e90ff" stroke-width="1" shape-rendering="crispEdges"/>
<rect x="3" y="24" width="1164" height="1" fill="#000"/>
<rect x="3" y="24" width="1" height="514" fill="#000"/>
<rect x="1166" y="24" width="1" height="514" fill="#000"/>
<rect x="3" y="393" width="1164" height="1" fill="#000"/>
<rect x="3" y="394" width="1164" height="1" fill="#fff"/>
<rect x="3" y="395" width="1164" height="1" fill="#000"/>
<rect x="3" y="458" width="1164" height="1" fill="#000"/>
<rect x="3" y="459" width="1164" height="1" fill="#fff"/>
<rect x="3" y="460" width="1164" height="1" fill="#000"/>
<rect x="3" y="537" width="1164" height="1" fill="#000"/>
<rect x="3" y="24" width="1" height="514" fill="#000"/>
<rect x="1166" y="24" width="1" height="514" fill="#000"/>
<rect x="1166" y="25" width="1" height="2" fill="#ff0000"/>
<rect x="1167" y="60" width="2" height="1" fill="#000"/>
<rect x="1167" y="93" width="2" height="1" fill="#000"/>
<rect x="1167" y="159" width="2" height="1" fill="#000"/>
<rect x="1167" y="192" width="2" height="1" fill="#000"/>
<rect x="1167" y="225" width="2" height="1" fill="#000"/>
<rect x="1167" y="258" width="2" height="1" fill="#000"/>
<rect x="1167" y="291" width="2" height="1" fill="#000"/>
<rect x="1167" y="324" width="2" height="1" fill="#000"/>
<rect x="1167" y="357" width="2" height="1" fill="#000"/>
<rect x="1167" y="390" width="2" height="1" fill="#000"/>
<rect x="1167" y="415" width="2" height="1" fill="#000"/>
<rect x="1167" y="484" width="2" height="1" fill="#000"/>
<rect x="1167" y="514" width="2" height="1" fill="#000"/>
<rect x="4" y="538" width="1" height="3" fill="#000"/>
<rect x="68" y="538" width="1" height="3" fill="#000"/>
<rect x="132" y="538" width="1" height="3" fill="#000"/>
<rect x="196" y="538" width="1" height="3" fill="#000"/>
<rect x="260" y="538" width="1" height="3" fill="#000"/>
<rect x="324" y="538" width="1" height="3" fill="#000"/>
<rect x="388" y="538" width="1" height="3" fill="#000"/>
<rect x="452" y="538" width="1" height="3" fill="#000"/>
<rect x="516" y="538" width="1" height="3" fill="#000"/>
<rect x="580" y="538" width="1" height="3" fill="#000"/>
<rect x="644" y="538" width="1" height="3" fill="#000"/>
<rect x="708" y="538" width="1" height="3" fill="#000"/>
<rect x="772" y="538" width="1" height="3" fill="#000"/>
<rect x="836" y="538" width="1" height="3" fill="#000"/>
<rect x="900" y="538" width="1" height="3" fill="#000"/>
<rect x="1168" y="22" width="41" height="9" fill="#ff0000"/>
<rect x="1168" y="119" width="41" height="11" fill="#ff0000"/>
<rect x="1168" y="241" width="41" height="11" fill="#000000"/>
<rect x="1168" y="270" width="41" height="11" fill="#00ff00"/>
<rect x="1168" y="381" width="41" height="11" fill="#0000ff"/>
<rect x="9" y="0" width="1" height="19" fill="#a0a0a0"/>
<rect x="0" y="18" width="10" height="1" fill="#a0a0a0"/>
<rect x="97" y="0" width="24" height="18" fill="#f8f8f8"/>
<rect x="96" y="0" width="1" height="18" fill="#969696"/>
<rect x="121" y="0" width="1" height="19" fill="#ffffff"/>
<rect x="96" y="18" width="26" height="1" fill="#ffffff"/>
<rect x="179" y="0" width="1" height="18" fill="#b8b8b8"/>
<rect x="180" y="0" width="1" height="18" fill="#ffffff"/>
<defs><filter id="sh" x="-20%" y="-50%" width="140%" height="250%"><feGaussianBlur stdDeviation="3"/></filter></defs>
<rect x="600" y="-20" width="119" height="31" rx="13" fill="#000" opacity="0.26" filter="url(#sh)"/>
<rect x="600" y="-22" width="117" height="27" rx="13" fill="#dedede" stroke="#bdbdbd" stroke-width="1" shape-rendering="auto"/>
<circle cx="620" cy="-16" r="27.5" fill="#000" opacity="0.3" filter="url(#sh)"/>
<circle cx="619.3" cy="-18.6" r="27.2" fill="#dcdcdc" shape-rendering="auto"/>
<circle cx="619.3" cy="-18.6" r="25" fill="#4bc866" shape-rendering="auto"/>
<polygon points="1185.3,566.3 1185.3,572.2 1182,569.2" fill="#8c8c8c" shape-rendering="auto"/>
<polygon points="1200.6,565.5 1200.6,572.5 1204.4,569" fill="#000" shape-rendering="auto"/>
<polygon points="7,35 14.5,35 10.75,30.5" fill="#000"/>
<rect x="0" y="560" width="214" height="1" fill="#000"/>
<rect x="312" y="560" width="897" height="1" fill="#000"/>
<rect x="214" y="559" width="98" height="19" fill="#fff"/>
<rect x="213" y="560" width="1" height="19" fill="#000"/>
<rect x="312" y="560" width="1" height="19" fill="#000"/>
<rect x="213" y="578" width="100" height="1" fill="#000"/>
<rect x="0" y="560" width="1" height="20" fill="#404040"/></svg>

<div class="t tb" style="left:-0.8px;color:#000;font-size:9.8px;top:4.2px">5</div>
<div class="t tb" style="left:16px">M30</div>
<div class="t tb" style="left:46.6px">H1</div>
<div class="t tb" style="left:73.6px">H4</div>
<div class="t tb" style="left:103px">D1</div>
<div class="t tb" style="left:130px">W1</div>
<div class="t tb" style="left:156px">MN</div>
<div class="t" style="left:19px;top:27.8px;font-size:9.9px">USDCHF,Daily<span style="font-size:9.25px;margin-left:6.2px">0.98175 0.98177 0.98042 0.98079</span></div>
<div class="t" style="left:8px;top:400px;font-size:9.4px">MACD(12,26,9) 0.002623 0.001593</div>
<div class="t" style="left:8px;top:465px;font-size:9.4px">RSI(14) 63.4253</div>
<div class="t ax" style="top:56px">1.00730</div>
<div class="t ax" style="top:89px">1.00260</div>
<div class="t ax" style="top:155px">0.99320</div>
<div class="t ax" style="top:188px">0.98850</div>
<div class="t ax" style="top:221px">0.98370</div>
<div class="t ax" style="top:254px">0.97900</div>
<div class="t ax" style="top:287px">0.97430</div>
<div class="t ax" style="top:320px">0.96960</div>
<div class="t ax" style="top:353px">0.96490</div>
<div style="position:absolute;left:1172px;top:392px;width:37px;height:3px;overflow:hidden"><div class="t ax" style="left:0;top:-6px">0.96020</div></div>
<div style="position:absolute;left:1172px;top:22px;width:37px;height:9px;overflow:hidden"><div class="t ax lbl" style="left:0;top:-1px">1.01211</div></div>
<div class="t ax lbl" style="top:121px">0.99802</div>
<div class="t ax lbl" style="top:242px">0.98079</div>
<div class="t ax lbl" style="top:271px">0.97648</div>
<div class="t ax lbl" style="top:382px">0.96073</div>
<div class="t ax2" style="top:398.7px">0.003428</div>
<div class="t ax2" style="top:411.7px">0.00</div>
<div class="t ax2" style="top:447.8px">-0.007615</div>
<div class="t ax2" style="top:464px">100</div>
<div class="t ax2" style="top:481px">70</div>
<div class="t ax2" style="top:510.70000000000005px">30</div>
<div class="t ax2" style="top:527px">0</div>
<div class="t dt" style="left:3px">25 May 2019</div>
<div class="t dt" style="left:67px">13 Jun 2019</div>
<div class="t dt" style="left:131px">2 Jul 2019</div>
<div class="t dt" style="left:195px">20 Jul 2019</div>
<div class="t dt" style="left:259px">8 Aug 2019</div>
<div class="t dt" style="left:323px">27 Aug 2019</div>
<div class="t dt" style="left:387px">14 Sep 2019</div>
<div class="t dt" style="left:451px">3 Oct 2019</div>
<div class="t dt" style="left:515px">22 Oct 2019</div>
<div class="t dt" style="left:579px">9 Nov 2019</div>
<div class="t dt" style="left:643px">28 Nov 2019</div>
<div class="t dt" style="left:707px">17 Dec 2019</div>
<div class="t dt" style="left:771px">4 Jan 2020</div>
<div class="t dt" style="left:835px">23 Jan 2020</div>
<div class="t dt" style="left:899px">11 Feb 2020</div>
<div class="t tab" style="left:17px;">EURUSD,Daily</div>
<div class="t tab" style="left:119px;">AUDUSD,Daily</div>
<div class="t tab" style="left:223px;color:#000">USDCHF,Daily</div>
<div class="t tab" style="left:324px;">USDCAD,Daily</div>
<div class="t tab" style="left:427px;">USDCNH,Daily</div>
<div class="t tab" style="left:531px;">XAUUSD,Daily</div>
<div class="t tab" style="left:635px;">DJ30,H4</div>
<div class="t tab" style="left:705px;">USDOil,Daily</div>
<div class="t tab" style="left:799px;">USDCHF,Daily</div>
<div class="t tab" style="left:901px;">GBPUSD,Daily</div>
<div class="t tab" style="left:1005px;">EURUSD,H1</div>
<div class="t tab" style="left:1096px;">GBPAUD,H1</div>
<div class="sep" style="left:109px"></div>
<div class="sep" style="left:417px"></div>
<div class="sep" style="left:521px"></div>
<div class="sep" style="left:624px"></div>
<div class="sep" style="left:694px"></div>
<div class="sep" style="left:789px"></div>
<div class="sep" style="left:889px"></div>
<div class="sep" style="left:993px"></div>
<div class="sep" style="left:1085px"></div>

<div style="position:absolute;left:7px;top:44px;width:219px;height:64px">
 <div style="position:absolute;left:0;top:0;width:51.5px;height:25px;background:linear-gradient(#f74f4f,#df3535)"></div>
 <div style="position:absolute;left:167.5px;top:0;width:51.5px;height:25px;background:linear-gradient(#f74f4f,#df3535)"></div>
 <div style="position:absolute;left:0;top:24.3px;width:109px;height:39.5px;background:linear-gradient(#dd3232,#c51616 50%,#ab0000)"></div>
 <div style="position:absolute;left:111px;top:24.3px;width:108px;height:39.5px;background:linear-gradient(#dd3232,#c51616 50%,#ab0000)"></div>
 <div style="position:absolute;left:4px;top:23.6px;width:44px;height:1px;background:#a81818"></div>
 <div style="position:absolute;left:171px;top:23.6px;width:44px;height:1px;background:#a81818"></div>
 <div style="position:absolute;left:4px;top:24.6px;width:44px;height:1px;background:#e45050"></div>
 <div style="position:absolute;left:171px;top:24.6px;width:44px;height:1px;background:#e45050"></div>
 <div style="position:absolute;left:53px;top:0;width:111.7px;height:22.5px;background:#fff;border:1px solid #b4b4b4;box-sizing:border-box"></div>
 <div style="position:absolute;left:55.6px;top:1.6px;width:19.6px;height:19.4px;background:linear-gradient(#f2f2f2,#e2e2e2 48%,#d0d0d0 52%,#cccccc);border:1px solid #bcbcbc;box-sizing:border-box"></div>
 <div style="position:absolute;left:144.4px;top:1.6px;width:19.6px;height:19.4px;background:linear-gradient(#f2f2f2,#e2e2e2 48%,#d0d0d0 52%,#cccccc);border:1px solid #bcbcbc;box-sizing:border-box"></div>
 <svg width="219" height="25" style="position:absolute;left:0;top:0"><polygon points="61.6,9.4 67.4,9.4 64.5,12.3" fill="#5064b4"/><polygon points="151.1,11.9 156.4,11.9 153.75,9.3" fill="#5064b4"/></svg>
 <div class="t" style="left:116.6px;top:4.7px;font-size:12px">5.00</div>
 <div class="t" style="left:12px;top:6.4px;font-size:11.5px;color:#fff;transform:scale(0.92,1.1);transform-origin:0 50%">SELL</div>
 <div class="t" style="left:180px;top:6.4px;font-size:11.5px;color:#fff;transform:scale(1.0,1.1);transform-origin:0 50%">BUY</div>
 <div class="t" style="left:20px;top:44.6px;font-size:11.2px;font-weight:bold;color:#fff;transform:scaleX(1.09);transform-origin:0 50%">0.98</div>
 <div class="t" style="left:46.6px;top:26.3px;font-size:33.5px;color:#fff;transform:scaleX(0.97);transform-origin:0 50%">07</div>
 <div class="t" style="left:87.5px;top:29.4px;font-size:11.5px;font-weight:bold;color:#fff">9</div>
 <div class="t" style="left:129.8px;top:44.6px;font-size:11.2px;font-weight:bold;color:#fff;transform:scaleX(1.09);transform-origin:0 50%">0.98</div>
 <div class="t" style="left:157.6px;top:26.3px;font-size:33.5px;color:#fff;transform:scaleX(0.97);transform-origin:0 50%">10</div>
 <div class="t" style="left:199px;top:29.2px;font-size:11.5px;font-weight:bold;color:#fff">3</div>
</div>

</div></body></html>
